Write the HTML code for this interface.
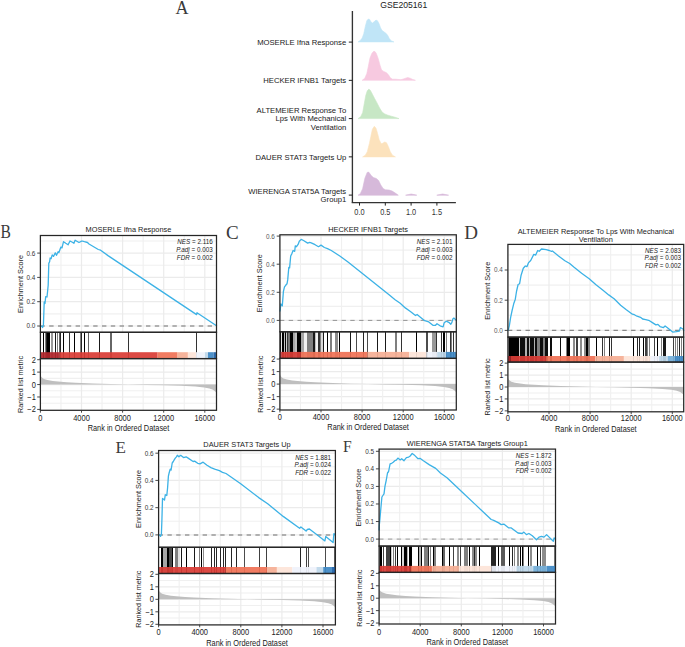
<!DOCTYPE html>
<html><head><meta charset="utf-8"><style>
html,body{margin:0;padding:0;background:#fff;}
svg{display:block;}
</style></head><body>
<svg width="685" height="647" viewBox="0 0 685 647">
<rect x="0" y="0" width="685" height="647" fill="#fff"/>
<text x="175.40" y="13.50" font-size="18" text-anchor="start" fill="#3a3a3a" font-family='"Liberation Serif", serif' >A</text>
<text transform="translate(403.70,8.10) scale(0.9,1)" font-size="9.6" text-anchor="middle" fill="#222" font-family='"Liberation Sans", sans-serif' >GSE205161</text>
<line x1="352.40" y1="11.00" x2="352.40" y2="202.60" stroke="#333" stroke-width="1.35" />
<line x1="351.72" y1="202.60" x2="455.90" y2="202.60" stroke="#333" stroke-width="1.35" />
<line x1="348.80" y1="42.10" x2="352.40" y2="42.10" stroke="#222" stroke-width="1.0" />
<line x1="348.80" y1="80.35" x2="352.40" y2="80.35" stroke="#222" stroke-width="1.0" />
<line x1="348.80" y1="118.60" x2="352.40" y2="118.60" stroke="#222" stroke-width="1.0" />
<line x1="348.80" y1="156.85" x2="352.40" y2="156.85" stroke="#222" stroke-width="1.0" />
<line x1="348.80" y1="195.10" x2="352.40" y2="195.10" stroke="#222" stroke-width="1.0" />
<line x1="359.50" y1="202.60" x2="359.50" y2="205.60" stroke="#222" stroke-width="1.0" />
<text transform="translate(359.50,215.00) scale(0.88,1)" font-size="8.4" text-anchor="middle" fill="#333" font-family='"Liberation Sans", sans-serif' >0.0</text>
<line x1="385.30" y1="202.60" x2="385.30" y2="205.60" stroke="#222" stroke-width="1.0" />
<text transform="translate(385.30,215.00) scale(0.88,1)" font-size="8.4" text-anchor="middle" fill="#333" font-family='"Liberation Sans", sans-serif' >0.5</text>
<line x1="411.10" y1="202.60" x2="411.10" y2="205.60" stroke="#222" stroke-width="1.0" />
<text transform="translate(411.10,215.00) scale(0.88,1)" font-size="8.4" text-anchor="middle" fill="#333" font-family='"Liberation Sans", sans-serif' >1.0</text>
<line x1="436.90" y1="202.60" x2="436.90" y2="205.60" stroke="#222" stroke-width="1.0" />
<text transform="translate(436.90,215.00) scale(0.88,1)" font-size="8.4" text-anchor="middle" fill="#333" font-family='"Liberation Sans", sans-serif' >1.5</text>
<text transform="translate(346.20,44.80) scale(0.96,1)" font-size="8.0" text-anchor="end" fill="#1a1a1a" font-family='"Liberation Sans", sans-serif' >MOSERLE Ifna Response</text>
<text transform="translate(346.20,83.05) scale(0.96,1)" font-size="8.0" text-anchor="end" fill="#1a1a1a" font-family='"Liberation Sans", sans-serif' >HECKER IFNB1 Targets</text>
<text transform="translate(346.20,112.90) scale(0.96,1)" font-size="8.0" text-anchor="end" fill="#1a1a1a" font-family='"Liberation Sans", sans-serif' >ALTEMEIER Response To</text>
<text transform="translate(346.20,121.30) scale(0.96,1)" font-size="8.0" text-anchor="end" fill="#1a1a1a" font-family='"Liberation Sans", sans-serif' >Lps With Mechanical</text>
<text transform="translate(346.20,129.70) scale(0.96,1)" font-size="8.0" text-anchor="end" fill="#1a1a1a" font-family='"Liberation Sans", sans-serif' >Ventilation</text>
<text transform="translate(346.20,159.55) scale(0.96,1)" font-size="8.0" text-anchor="end" fill="#1a1a1a" font-family='"Liberation Sans", sans-serif' >DAUER STAT3 Targets Up</text>
<text transform="translate(346.20,193.60) scale(0.96,1)" font-size="8.0" text-anchor="end" fill="#1a1a1a" font-family='"Liberation Sans", sans-serif' >WIERENGA STAT5A Targets</text>
<text transform="translate(346.20,202.10) scale(0.96,1)" font-size="8.0" text-anchor="end" fill="#1a1a1a" font-family='"Liberation Sans", sans-serif' >Group1</text>
<polygon points="358.10,41.90 360.20,40.50 362.20,38.10 363.80,33.50 365.30,26.40 366.80,20.80 368.30,19.00 369.60,19.40 370.90,21.80 372.40,23.10 374.00,21.80 376.00,20.10 377.50,20.80 379.10,23.80 380.60,27.90 382.10,30.50 384.20,32.00 386.20,33.50 387.80,35.60 389.30,38.50 391.30,40.90 393.90,41.90" fill="#c0e5f7" stroke="#c0e5f7" stroke-width="0.6" stroke-linejoin="round" />
<polygon points="362.20,80.30 364.80,78.20 366.80,73.60 368.30,66.50 369.90,58.30 371.90,53.20 374.00,51.10 376.00,52.70 378.10,58.30 380.10,65.40 381.60,70.00 383.70,71.40 386.20,72.60 388.30,74.60 390.30,77.70 392.40,79.20 395.90,79.20 401.00,79.70 404.10,78.70 407.70,77.50 410.20,78.20 412.80,79.50 415.40,80.30" fill="#f7c9e0" stroke="#f7c9e0" stroke-width="0.6" stroke-linejoin="round" />
<polygon points="358.10,118.60 360.70,116.70 362.70,112.60 364.30,103.40 365.80,95.30 367.30,90.70 368.90,89.10 370.40,90.40 372.40,94.20 374.50,98.30 377.00,102.90 379.60,108.00 382.10,112.10 384.70,113.90 387.80,115.20 391.30,116.20 394.90,117.20 399.00,118.60" fill="#c7e7c5" stroke="#c7e7c5" stroke-width="0.6" stroke-linejoin="round" />
<polygon points="362.70,156.90 365.30,155.20 367.30,151.70 369.40,143.50 370.90,136.30 372.40,129.20 374.30,126.30 376.00,128.20 377.50,133.30 379.10,139.40 381.10,143.70 382.70,143.30 384.70,142.00 386.50,142.70 388.30,146.50 390.30,151.70 392.40,155.20 395.40,156.90" fill="#fce2bc" stroke="#fce2bc" stroke-width="0.6" stroke-linejoin="round" />
<polygon points="358.10,195.20 360.30,193.70 362.60,188.80 364.90,178.20 367.20,172.40 368.70,172.10 371.00,175.20 373.30,177.50 376.30,178.50 378.60,180.50 380.80,185.00 383.10,188.50 385.40,189.80 389.20,190.10 392.20,191.10 395.30,193.10 398.30,195.20" fill="#d6b9da" stroke="#d6b9da" stroke-width="0.6" stroke-linejoin="round" />
<polygon points="405.60,195.20 408.50,194.60 411.20,194.00 414.00,194.60 416.80,195.20" fill="#d6b9da" stroke="#d6b9da" stroke-width="0.6" stroke-linejoin="round" />
<polygon points="436.80,195.20 439.70,194.60 442.60,194.00 445.50,194.60 448.60,195.20" fill="#d6b9da" stroke="#d6b9da" stroke-width="0.6" stroke-linejoin="round" />
<g>
<line x1="40.40" y1="313.85" x2="216.50" y2="313.85" stroke="#f0f0f0" stroke-width="1.1" />
<line x1="40.40" y1="289.55" x2="216.50" y2="289.55" stroke="#f0f0f0" stroke-width="1.1" />
<line x1="40.40" y1="265.25" x2="216.50" y2="265.25" stroke="#f0f0f0" stroke-width="1.1" />
<line x1="40.40" y1="240.95" x2="216.50" y2="240.95" stroke="#f0f0f0" stroke-width="1.1" />
<line x1="40.40" y1="326.00" x2="216.50" y2="326.00" stroke="#ebebeb" stroke-width="1.2" />
<line x1="40.40" y1="301.70" x2="216.50" y2="301.70" stroke="#ebebeb" stroke-width="1.2" />
<line x1="40.40" y1="277.40" x2="216.50" y2="277.40" stroke="#ebebeb" stroke-width="1.2" />
<line x1="40.40" y1="253.10" x2="216.50" y2="253.10" stroke="#ebebeb" stroke-width="1.2" />
<line x1="60.95" y1="235.50" x2="60.95" y2="332.30" stroke="#f0f0f0" stroke-width="1.1" />
<line x1="102.05" y1="235.50" x2="102.05" y2="332.30" stroke="#f0f0f0" stroke-width="1.1" />
<line x1="143.15" y1="235.50" x2="143.15" y2="332.30" stroke="#f0f0f0" stroke-width="1.1" />
<line x1="184.25" y1="235.50" x2="184.25" y2="332.30" stroke="#f0f0f0" stroke-width="1.1" />
<line x1="40.40" y1="235.50" x2="40.40" y2="332.30" stroke="#ebebeb" stroke-width="1.2" />
<line x1="81.50" y1="235.50" x2="81.50" y2="332.30" stroke="#ebebeb" stroke-width="1.2" />
<line x1="122.60" y1="235.50" x2="122.60" y2="332.30" stroke="#ebebeb" stroke-width="1.2" />
<line x1="163.70" y1="235.50" x2="163.70" y2="332.30" stroke="#ebebeb" stroke-width="1.2" />
<line x1="204.80" y1="235.50" x2="204.80" y2="332.30" stroke="#ebebeb" stroke-width="1.2" />
<line x1="40.40" y1="365.91" x2="216.50" y2="365.91" stroke="#f0f0f0" stroke-width="1.1" />
<line x1="40.40" y1="378.34" x2="216.50" y2="378.34" stroke="#f0f0f0" stroke-width="1.1" />
<line x1="40.40" y1="390.76" x2="216.50" y2="390.76" stroke="#f0f0f0" stroke-width="1.1" />
<line x1="40.40" y1="403.19" x2="216.50" y2="403.19" stroke="#f0f0f0" stroke-width="1.1" />
<line x1="40.40" y1="372.12" x2="216.50" y2="372.12" stroke="#ebebeb" stroke-width="1.2" />
<line x1="40.40" y1="384.55" x2="216.50" y2="384.55" stroke="#ebebeb" stroke-width="1.2" />
<line x1="40.40" y1="396.98" x2="216.50" y2="396.98" stroke="#ebebeb" stroke-width="1.2" />
<line x1="60.95" y1="358.60" x2="60.95" y2="410.30" stroke="#f0f0f0" stroke-width="1.1" />
<line x1="102.05" y1="358.60" x2="102.05" y2="410.30" stroke="#f0f0f0" stroke-width="1.1" />
<line x1="143.15" y1="358.60" x2="143.15" y2="410.30" stroke="#f0f0f0" stroke-width="1.1" />
<line x1="184.25" y1="358.60" x2="184.25" y2="410.30" stroke="#f0f0f0" stroke-width="1.1" />
<line x1="40.40" y1="358.60" x2="40.40" y2="410.30" stroke="#ebebeb" stroke-width="1.2" />
<line x1="81.50" y1="358.60" x2="81.50" y2="410.30" stroke="#ebebeb" stroke-width="1.2" />
<line x1="122.60" y1="358.60" x2="122.60" y2="410.30" stroke="#ebebeb" stroke-width="1.2" />
<line x1="163.70" y1="358.60" x2="163.70" y2="410.30" stroke="#ebebeb" stroke-width="1.2" />
<line x1="204.80" y1="358.60" x2="204.80" y2="410.30" stroke="#ebebeb" stroke-width="1.2" />
</g>
<line x1="40.40" y1="326.00" x2="216.50" y2="326.00" stroke="#9a9a9a" stroke-width="1.5" stroke-dasharray="4.4,4.4"/>
<polyline points="40.40,326.30 41.90,326.30 42.60,327.50 43.40,325.20 43.90,311.30 44.20,302.00 45.00,303.50 45.70,296.60 47.00,297.00 47.60,291.20 48.20,285.00 48.80,263.40 49.60,261.80 50.10,258.00 51.10,258.70 52.20,254.90 53.50,256.40 55.30,252.90 56.50,255.30 58.10,251.80 58.90,252.50 60.90,247.10 62.00,247.90 63.50,241.70 65.80,243.30 68.10,244.80 70.00,241.00 72.80,242.50 73.90,243.30 75.10,240.20 79.00,242.50 80.50,241.70 82.00,241.00 84.40,241.70 87.50,242.50 89.00,244.00 98.30,249.50 100.60,250.20 108.00,255.60 196.60,314.60 197.00,312.70 216.50,325.80" fill="none" stroke="#3cb2e6" stroke-width="1.3" stroke-linejoin="round" stroke-linecap="round"/>
<polygon points="40.40,384.55 40.40,374.61 41.10,376.59 42.16,377.84 43.92,378.96 47.44,380.08 52.73,380.95 58.01,381.57 66.81,382.31 75.62,382.81 93.23,383.56 110.84,384.11 128.45,384.55 146.06,384.92 163.67,385.30 181.28,385.79 195.37,386.54 204.17,387.41 209.46,388.40 212.98,389.77 215.62,391.76 216.50,393.25 216.50,384.55" fill="#bfbfbf" stroke="none" stroke-width="0" stroke-linejoin="round" />
<rect x="40.00" y="332.30" width="1.00" height="26.30" fill="rgba(0,0,0,0.5)" stroke="none" stroke-width="1" />
<rect x="43.00" y="332.30" width="1.00" height="26.30" fill="rgba(0,0,0,1)" stroke="none" stroke-width="1" />
<rect x="45.00" y="332.30" width="1.00" height="26.30" fill="rgba(0,0,0,0.5)" stroke="none" stroke-width="1" />
<rect x="46.00" y="332.30" width="1.00" height="26.30" fill="rgba(0,0,0,0.85)" stroke="none" stroke-width="1" />
<rect x="47.00" y="332.30" width="3.00" height="26.30" fill="rgba(0,0,0,1)" stroke="none" stroke-width="1" />
<rect x="51.00" y="332.30" width="2.00" height="26.30" fill="rgba(0,0,0,0.4)" stroke="none" stroke-width="1" />
<rect x="55.00" y="332.30" width="1.00" height="26.30" fill="rgba(0,0,0,0.9)" stroke="none" stroke-width="1" />
<rect x="57.00" y="332.30" width="1.00" height="26.30" fill="rgba(0,0,0,0.5)" stroke="none" stroke-width="1" />
<rect x="59.00" y="332.30" width="1.00" height="26.30" fill="rgba(0,0,0,0.6)" stroke="none" stroke-width="1" />
<rect x="60.00" y="332.30" width="1.00" height="26.30" fill="rgba(0,0,0,0.85)" stroke="none" stroke-width="1" />
<rect x="63.00" y="332.30" width="1.00" height="26.30" fill="rgba(0,0,0,1)" stroke="none" stroke-width="1" />
<rect x="69.00" y="332.30" width="1.00" height="26.30" fill="rgba(0,0,0,0.8)" stroke="none" stroke-width="1" />
<rect x="74.00" y="332.30" width="1.00" height="26.30" fill="rgba(0,0,0,1)" stroke="none" stroke-width="1" />
<rect x="80.00" y="332.30" width="1.00" height="26.30" fill="rgba(0,0,0,0.5)" stroke="none" stroke-width="1" />
<rect x="81.00" y="332.30" width="1.00" height="26.30" fill="rgba(0,0,0,0.85)" stroke="none" stroke-width="1" />
<rect x="84.00" y="332.30" width="1.00" height="26.30" fill="rgba(0,0,0,1)" stroke="none" stroke-width="1" />
<rect x="88.00" y="332.30" width="1.00" height="26.30" fill="rgba(0,0,0,0.6)" stroke="none" stroke-width="1" />
<rect x="99.00" y="332.30" width="1.00" height="26.30" fill="rgba(0,0,0,0.9)" stroke="none" stroke-width="1" />
<rect x="110.00" y="332.30" width="2.00" height="26.30" fill="rgba(0,0,0,0.6)" stroke="none" stroke-width="1" />
<rect x="128.00" y="332.30" width="1.00" height="26.30" fill="rgba(0,0,0,0.8)" stroke="none" stroke-width="1" />
<rect x="196.00" y="332.30" width="1.00" height="26.30" fill="rgba(0,0,0,0.8)" stroke="none" stroke-width="1" />
<rect x="40.40" y="352.20" width="19.10" height="6.40" fill="#b0262b" stroke="none" stroke-width="1" fill-opacity="0.93"/>
<rect x="59.50" y="352.20" width="98.10" height="6.40" fill="#d93c36" stroke="none" stroke-width="1" fill-opacity="0.93"/>
<rect x="157.60" y="352.20" width="19.40" height="6.40" fill="#f07256" stroke="none" stroke-width="1" fill-opacity="0.93"/>
<rect x="177.00" y="352.20" width="10.90" height="6.40" fill="#f5ae95" stroke="none" stroke-width="1" fill-opacity="0.93"/>
<rect x="187.90" y="352.20" width="8.10" height="6.40" fill="#fde4d8" stroke="none" stroke-width="1" fill-opacity="0.93"/>
<rect x="196.00" y="352.20" width="8.90" height="6.40" fill="#eff2fb" stroke="none" stroke-width="1" fill-opacity="0.93"/>
<rect x="204.90" y="352.20" width="3.10" height="6.40" fill="#bed7ea" stroke="none" stroke-width="1" fill-opacity="0.93"/>
<rect x="208.00" y="352.20" width="5.60" height="6.40" fill="#3f89c5" stroke="none" stroke-width="1" fill-opacity="0.93"/>
<rect x="213.60" y="352.20" width="2.90" height="6.40" fill="#1f60a7" stroke="none" stroke-width="1" fill-opacity="0.93"/>
<rect x="40.40" y="235.50" width="176.10" height="96.80" fill="none" stroke="#262626" stroke-width="1.25" />
<rect x="40.40" y="332.30" width="176.10" height="26.30" fill="none" stroke="#262626" stroke-width="1.25" />
<rect x="40.40" y="358.60" width="176.10" height="51.70" fill="none" stroke="#262626" stroke-width="1.25" />
<line x1="37.20" y1="326.00" x2="40.40" y2="326.00" stroke="#333" stroke-width="0.9" />
<text transform="translate(35.40,328.45) scale(0.94,1)" font-size="6.8" text-anchor="end" fill="#333" font-family='"Liberation Sans", sans-serif' >0.0</text>
<line x1="37.20" y1="301.70" x2="40.40" y2="301.70" stroke="#333" stroke-width="0.9" />
<text transform="translate(35.40,304.15) scale(0.94,1)" font-size="6.8" text-anchor="end" fill="#333" font-family='"Liberation Sans", sans-serif' >0.2</text>
<line x1="37.20" y1="277.40" x2="40.40" y2="277.40" stroke="#333" stroke-width="0.9" />
<text transform="translate(35.40,279.85) scale(0.94,1)" font-size="6.8" text-anchor="end" fill="#333" font-family='"Liberation Sans", sans-serif' >0.4</text>
<line x1="37.20" y1="253.10" x2="40.40" y2="253.10" stroke="#333" stroke-width="0.9" />
<text transform="translate(35.40,255.55) scale(0.94,1)" font-size="6.8" text-anchor="end" fill="#333" font-family='"Liberation Sans", sans-serif' >0.6</text>
<line x1="37.20" y1="359.69" x2="40.40" y2="359.69" stroke="#333" stroke-width="0.9" />
<text transform="translate(35.80,362.69) scale(0.89,1)" font-size="8.4" text-anchor="end" fill="#222" font-family='"Liberation Sans", sans-serif' >2</text>
<line x1="37.20" y1="372.12" x2="40.40" y2="372.12" stroke="#333" stroke-width="0.9" />
<text transform="translate(35.80,375.12) scale(0.89,1)" font-size="8.4" text-anchor="end" fill="#222" font-family='"Liberation Sans", sans-serif' >1</text>
<line x1="37.20" y1="384.55" x2="40.40" y2="384.55" stroke="#333" stroke-width="0.9" />
<text transform="translate(35.80,387.55) scale(0.89,1)" font-size="8.4" text-anchor="end" fill="#222" font-family='"Liberation Sans", sans-serif' >0</text>
<line x1="37.20" y1="396.98" x2="40.40" y2="396.98" stroke="#333" stroke-width="0.9" />
<text transform="translate(35.80,399.98) scale(0.89,1)" font-size="8.4" text-anchor="end" fill="#222" font-family='"Liberation Sans", sans-serif' >−1</text>
<line x1="37.20" y1="409.41" x2="40.40" y2="409.41" stroke="#333" stroke-width="0.9" />
<text transform="translate(35.80,412.41) scale(0.89,1)" font-size="8.4" text-anchor="end" fill="#222" font-family='"Liberation Sans", sans-serif' >−2</text>
<line x1="40.40" y1="410.30" x2="40.40" y2="412.70" stroke="#333" stroke-width="0.9" />
<text transform="translate(40.40,420.50) scale(0.89,1)" font-size="8.4" text-anchor="middle" fill="#222" font-family='"Liberation Sans", sans-serif' >0</text>
<line x1="81.50" y1="410.30" x2="81.50" y2="412.70" stroke="#333" stroke-width="0.9" />
<text transform="translate(81.50,420.50) scale(0.89,1)" font-size="8.4" text-anchor="middle" fill="#222" font-family='"Liberation Sans", sans-serif' >4000</text>
<line x1="122.60" y1="410.30" x2="122.60" y2="412.70" stroke="#333" stroke-width="0.9" />
<text transform="translate(122.60,420.50) scale(0.89,1)" font-size="8.4" text-anchor="middle" fill="#222" font-family='"Liberation Sans", sans-serif' >8000</text>
<line x1="163.70" y1="410.30" x2="163.70" y2="412.70" stroke="#333" stroke-width="0.9" />
<text transform="translate(163.70,420.50) scale(0.89,1)" font-size="8.4" text-anchor="middle" fill="#222" font-family='"Liberation Sans", sans-serif' >12000</text>
<line x1="204.80" y1="410.30" x2="204.80" y2="412.70" stroke="#333" stroke-width="0.9" />
<text transform="translate(204.80,420.50) scale(0.89,1)" font-size="8.4" text-anchor="middle" fill="#222" font-family='"Liberation Sans", sans-serif' >16000</text>
<text transform="translate(128.45,430.60) scale(0.89,1)" font-size="8.3" text-anchor="middle" fill="#1a1a1a" font-family='"Liberation Sans", sans-serif' >Rank in Ordered Dataset</text>
<text transform="translate(22.50,283.90) rotate(-90)" font-size="7.3" text-anchor="middle" fill="#1a1a1a" font-family='"Liberation Sans", sans-serif'>Enrichment Score</text>
<text transform="translate(22.70,384.45) rotate(-90)" font-size="7.2" text-anchor="middle" fill="#1a1a1a" font-family='"Liberation Sans", sans-serif'>Ranked list metric</text>
<text transform="translate(128.45,231.90) scale(0.96,1)" font-size="7.7" text-anchor="middle" fill="#1a1a1a" font-family='"Liberation Sans", sans-serif' >MOSERLE Ifna Response</text>
<text x="212.70" y="244.40" font-size="6.3" text-anchor="end" fill="#222" font-family='"Liberation Sans", sans-serif'><tspan font-style="italic">NES</tspan> = 2.116</text>
<text x="212.70" y="252.00" font-size="6.3" text-anchor="end" fill="#222" font-family='"Liberation Sans", sans-serif'><tspan font-style="italic">P.adj</tspan> = 0.003</text>
<text x="212.70" y="259.60" font-size="6.3" text-anchor="end" fill="#222" font-family='"Liberation Sans", sans-serif'><tspan font-style="italic">FDR</tspan> = 0.002</text>
<text transform="translate(0.50,237.90) scale(0.82,1)" font-size="19" fill="#3a3a3a" font-family='"Liberation Serif", serif'>B</text>
<g>
<line x1="279.90" y1="306.35" x2="456.30" y2="306.35" stroke="#f0f0f0" stroke-width="1.1" />
<line x1="279.90" y1="278.25" x2="456.30" y2="278.25" stroke="#f0f0f0" stroke-width="1.1" />
<line x1="279.90" y1="250.15" x2="456.30" y2="250.15" stroke="#f0f0f0" stroke-width="1.1" />
<line x1="279.90" y1="320.40" x2="456.30" y2="320.40" stroke="#ebebeb" stroke-width="1.2" />
<line x1="279.90" y1="292.30" x2="456.30" y2="292.30" stroke="#ebebeb" stroke-width="1.2" />
<line x1="279.90" y1="264.20" x2="456.30" y2="264.20" stroke="#ebebeb" stroke-width="1.2" />
<line x1="279.90" y1="236.10" x2="456.30" y2="236.10" stroke="#ebebeb" stroke-width="1.2" />
<line x1="300.45" y1="234.80" x2="300.45" y2="331.80" stroke="#f0f0f0" stroke-width="1.1" />
<line x1="341.55" y1="234.80" x2="341.55" y2="331.80" stroke="#f0f0f0" stroke-width="1.1" />
<line x1="382.65" y1="234.80" x2="382.65" y2="331.80" stroke="#f0f0f0" stroke-width="1.1" />
<line x1="423.75" y1="234.80" x2="423.75" y2="331.80" stroke="#f0f0f0" stroke-width="1.1" />
<line x1="279.90" y1="234.80" x2="279.90" y2="331.80" stroke="#ebebeb" stroke-width="1.2" />
<line x1="321.00" y1="234.80" x2="321.00" y2="331.80" stroke="#ebebeb" stroke-width="1.2" />
<line x1="362.10" y1="234.80" x2="362.10" y2="331.80" stroke="#ebebeb" stroke-width="1.2" />
<line x1="403.20" y1="234.80" x2="403.20" y2="331.80" stroke="#ebebeb" stroke-width="1.2" />
<line x1="444.30" y1="234.80" x2="444.30" y2="331.80" stroke="#ebebeb" stroke-width="1.2" />
<line x1="279.90" y1="365.32" x2="456.30" y2="365.32" stroke="#f0f0f0" stroke-width="1.1" />
<line x1="279.90" y1="377.84" x2="456.30" y2="377.84" stroke="#f0f0f0" stroke-width="1.1" />
<line x1="279.90" y1="390.36" x2="456.30" y2="390.36" stroke="#f0f0f0" stroke-width="1.1" />
<line x1="279.90" y1="402.88" x2="456.30" y2="402.88" stroke="#f0f0f0" stroke-width="1.1" />
<line x1="279.90" y1="371.58" x2="456.30" y2="371.58" stroke="#ebebeb" stroke-width="1.2" />
<line x1="279.90" y1="384.10" x2="456.30" y2="384.10" stroke="#ebebeb" stroke-width="1.2" />
<line x1="279.90" y1="396.62" x2="456.30" y2="396.62" stroke="#ebebeb" stroke-width="1.2" />
<line x1="300.45" y1="358.40" x2="300.45" y2="410.00" stroke="#f0f0f0" stroke-width="1.1" />
<line x1="341.55" y1="358.40" x2="341.55" y2="410.00" stroke="#f0f0f0" stroke-width="1.1" />
<line x1="382.65" y1="358.40" x2="382.65" y2="410.00" stroke="#f0f0f0" stroke-width="1.1" />
<line x1="423.75" y1="358.40" x2="423.75" y2="410.00" stroke="#f0f0f0" stroke-width="1.1" />
<line x1="279.90" y1="358.40" x2="279.90" y2="410.00" stroke="#ebebeb" stroke-width="1.2" />
<line x1="321.00" y1="358.40" x2="321.00" y2="410.00" stroke="#ebebeb" stroke-width="1.2" />
<line x1="362.10" y1="358.40" x2="362.10" y2="410.00" stroke="#ebebeb" stroke-width="1.2" />
<line x1="403.20" y1="358.40" x2="403.20" y2="410.00" stroke="#ebebeb" stroke-width="1.2" />
<line x1="444.30" y1="358.40" x2="444.30" y2="410.00" stroke="#ebebeb" stroke-width="1.2" />
</g>
<line x1="279.90" y1="320.40" x2="456.30" y2="320.40" stroke="#8a8a8a" stroke-width="0.9" stroke-dasharray="4.4,4.4"/>
<polyline points="280.00,311.00 280.30,309.30 280.80,303.90 282.30,305.90 283.40,291.50 284.50,286.90 285.70,285.30 287.00,283.80 287.70,279.90 288.80,267.50 289.60,267.90 290.70,256.00 291.90,253.60 293.10,250.50 294.70,251.30 295.30,245.90 296.50,246.70 298.10,244.40 299.30,241.30 301.20,239.40 303.50,240.50 307.70,243.10 309.70,242.40 311.20,242.80 315.10,244.70 318.50,246.70 321.00,245.10 324.40,247.50 327.50,248.70 331.30,250.50 339.80,256.00 348.00,262.10 390.00,295.60 395.10,299.70 400.20,303.30 405.30,307.90 410.40,311.50 415.50,315.50 417.10,314.50 420.70,317.40 424.70,320.70 428.80,321.90 432.90,325.30 435.50,325.30 437.00,323.70 440.10,325.80 443.10,326.80 444.20,322.70 446.20,321.20 449.30,322.70 450.80,324.20 451.80,322.70 452.80,319.10 453.90,318.10 455.40,319.40 456.30,320.40" fill="none" stroke="#3cb2e6" stroke-width="1.3" stroke-linejoin="round" stroke-linecap="round"/>
<polygon points="279.90,384.10 279.90,374.08 280.61,376.09 281.66,377.34 283.43,378.47 286.96,379.59 292.25,380.47 297.54,381.10 306.36,381.85 315.18,382.35 332.82,383.10 350.46,383.66 368.10,384.10 385.74,384.48 403.38,384.85 421.02,385.35 435.13,386.10 443.95,386.98 449.24,387.98 452.77,389.36 455.42,391.36 456.30,392.86 456.30,384.10" fill="#bfbfbf" stroke="none" stroke-width="0" stroke-linejoin="round" />
<rect x="280.00" y="331.80" width="1.00" height="26.60" fill="rgba(0,0,0,1)" stroke="none" stroke-width="1" />
<rect x="281.00" y="331.80" width="1.00" height="26.60" fill="rgba(0,0,0,0.1)" stroke="none" stroke-width="1" />
<rect x="282.00" y="331.80" width="2.00" height="26.60" fill="rgba(0,0,0,1)" stroke="none" stroke-width="1" />
<rect x="284.00" y="331.80" width="1.00" height="26.60" fill="rgba(0,0,0,0.25)" stroke="none" stroke-width="1" />
<rect x="285.00" y="331.80" width="1.00" height="26.60" fill="rgba(0,0,0,1)" stroke="none" stroke-width="1" />
<rect x="286.00" y="331.80" width="1.00" height="26.60" fill="rgba(0,0,0,0.2)" stroke="none" stroke-width="1" />
<rect x="287.00" y="331.80" width="1.00" height="26.60" fill="rgba(0,0,0,0.8)" stroke="none" stroke-width="1" />
<rect x="288.00" y="331.80" width="2.00" height="26.60" fill="rgba(0,0,0,0.55)" stroke="none" stroke-width="1" />
<rect x="290.00" y="331.80" width="3.00" height="26.60" fill="rgba(0,0,0,1)" stroke="none" stroke-width="1" />
<rect x="293.00" y="331.80" width="2.00" height="26.60" fill="rgba(0,0,0,0.35)" stroke="none" stroke-width="1" />
<rect x="295.00" y="331.80" width="2.00" height="26.60" fill="rgba(0,0,0,0.25)" stroke="none" stroke-width="1" />
<rect x="297.00" y="331.80" width="4.00" height="26.60" fill="rgba(0,0,0,1)" stroke="none" stroke-width="1" />
<rect x="301.00" y="331.80" width="3.00" height="26.60" fill="rgba(0,0,0,0.35)" stroke="none" stroke-width="1" />
<rect x="304.00" y="331.80" width="3.00" height="26.60" fill="rgba(0,0,0,0.05)" stroke="none" stroke-width="1" />
<rect x="307.00" y="331.80" width="6.00" height="26.60" fill="rgba(0,0,0,0.5)" stroke="none" stroke-width="1" />
<rect x="313.00" y="331.80" width="2.00" height="26.60" fill="rgba(0,0,0,0.9)" stroke="none" stroke-width="1" />
<rect x="315.00" y="331.80" width="1.00" height="26.60" fill="rgba(0,0,0,0.25)" stroke="none" stroke-width="1" />
<rect x="316.00" y="331.80" width="2.00" height="26.60" fill="rgba(0,0,0,0.05)" stroke="none" stroke-width="1" />
<rect x="318.00" y="331.80" width="2.00" height="26.60" fill="rgba(0,0,0,0.8)" stroke="none" stroke-width="1" />
<rect x="320.00" y="331.80" width="1.00" height="26.60" fill="rgba(0,0,0,0.5)" stroke="none" stroke-width="1" />
<rect x="321.00" y="331.80" width="2.00" height="26.60" fill="rgba(0,0,0,0.15)" stroke="none" stroke-width="1" />
<rect x="323.00" y="331.80" width="1.00" height="26.60" fill="rgba(0,0,0,0.9)" stroke="none" stroke-width="1" />
<rect x="327.00" y="331.80" width="1.00" height="26.60" fill="rgba(0,0,0,1)" stroke="none" stroke-width="1" />
<rect x="330.00" y="331.80" width="2.00" height="26.60" fill="rgba(0,0,0,0.5)" stroke="none" stroke-width="1" />
<rect x="335.00" y="331.80" width="3.00" height="26.60" fill="rgba(0,0,0,0.45)" stroke="none" stroke-width="1" />
<rect x="339.00" y="331.80" width="1.00" height="26.60" fill="rgba(0,0,0,1)" stroke="none" stroke-width="1" />
<rect x="350.00" y="331.80" width="1.00" height="26.60" fill="rgba(0,0,0,0.9)" stroke="none" stroke-width="1" />
<rect x="356.00" y="331.80" width="1.00" height="26.60" fill="rgba(0,0,0,0.7)" stroke="none" stroke-width="1" />
<rect x="363.00" y="331.80" width="1.00" height="26.60" fill="rgba(0,0,0,0.85)" stroke="none" stroke-width="1" />
<rect x="367.00" y="331.80" width="1.00" height="26.60" fill="rgba(0,0,0,0.7)" stroke="none" stroke-width="1" />
<rect x="377.00" y="331.80" width="1.00" height="26.60" fill="rgba(0,0,0,0.9)" stroke="none" stroke-width="1" />
<rect x="385.00" y="331.80" width="1.00" height="26.60" fill="rgba(0,0,0,0.9)" stroke="none" stroke-width="1" />
<rect x="395.00" y="331.80" width="2.00" height="26.60" fill="rgba(0,0,0,0.5)" stroke="none" stroke-width="1" />
<rect x="401.00" y="331.80" width="1.00" height="26.60" fill="rgba(0,0,0,0.8)" stroke="none" stroke-width="1" />
<rect x="416.00" y="331.80" width="1.00" height="26.60" fill="rgba(0,0,0,1)" stroke="none" stroke-width="1" />
<rect x="426.00" y="331.80" width="2.00" height="26.60" fill="rgba(0,0,0,0.7)" stroke="none" stroke-width="1" />
<rect x="432.00" y="331.80" width="4.00" height="26.60" fill="rgba(0,0,0,0.4)" stroke="none" stroke-width="1" />
<rect x="436.00" y="331.80" width="1.00" height="26.60" fill="rgba(0,0,0,0.8)" stroke="none" stroke-width="1" />
<rect x="441.00" y="331.80" width="1.00" height="26.60" fill="rgba(0,0,0,0.8)" stroke="none" stroke-width="1" />
<rect x="443.00" y="331.80" width="2.00" height="26.60" fill="rgba(0,0,0,1)" stroke="none" stroke-width="1" />
<rect x="446.00" y="331.80" width="1.00" height="26.60" fill="rgba(0,0,0,0.5)" stroke="none" stroke-width="1" />
<rect x="450.00" y="331.80" width="1.00" height="26.60" fill="rgba(0,0,0,0.8)" stroke="none" stroke-width="1" />
<rect x="451.00" y="331.80" width="1.00" height="26.60" fill="rgba(0,0,0,0.5)" stroke="none" stroke-width="1" />
<rect x="453.00" y="331.80" width="1.00" height="26.60" fill="rgba(0,0,0,0.8)" stroke="none" stroke-width="1" />
<rect x="279.90" y="351.90" width="1.90" height="6.50" fill="#b0262b" stroke="none" stroke-width="1" fill-opacity="0.93"/>
<rect x="281.80" y="351.90" width="19.10" height="6.50" fill="#d93c36" stroke="none" stroke-width="1" fill-opacity="0.93"/>
<rect x="300.90" y="351.90" width="66.70" height="6.50" fill="#f07256" stroke="none" stroke-width="1" fill-opacity="0.93"/>
<rect x="367.60" y="351.90" width="41.40" height="6.50" fill="#f5ae95" stroke="none" stroke-width="1" fill-opacity="0.93"/>
<rect x="409.00" y="351.90" width="17.40" height="6.50" fill="#fde4d8" stroke="none" stroke-width="1" fill-opacity="0.93"/>
<rect x="426.40" y="351.90" width="10.80" height="6.50" fill="#eff2fb" stroke="none" stroke-width="1" fill-opacity="0.93"/>
<rect x="437.20" y="351.90" width="8.70" height="6.50" fill="#bed7ea" stroke="none" stroke-width="1" fill-opacity="0.93"/>
<rect x="445.90" y="351.90" width="10.40" height="6.50" fill="#3f89c5" stroke="none" stroke-width="1" fill-opacity="0.93"/>
<rect x="279.90" y="234.80" width="176.40" height="97.00" fill="none" stroke="#262626" stroke-width="1.25" />
<rect x="279.90" y="331.80" width="176.40" height="26.60" fill="none" stroke="#262626" stroke-width="1.25" />
<rect x="279.90" y="358.40" width="176.40" height="51.60" fill="none" stroke="#262626" stroke-width="1.25" />
<line x1="276.70" y1="320.40" x2="279.90" y2="320.40" stroke="#333" stroke-width="0.9" />
<text transform="translate(274.90,322.85) scale(0.94,1)" font-size="6.8" text-anchor="end" fill="#555" font-family='"Liberation Sans", sans-serif' >0.0</text>
<line x1="276.70" y1="292.30" x2="279.90" y2="292.30" stroke="#333" stroke-width="0.9" />
<text transform="translate(274.90,294.75) scale(0.94,1)" font-size="6.8" text-anchor="end" fill="#555" font-family='"Liberation Sans", sans-serif' >0.2</text>
<line x1="276.70" y1="264.20" x2="279.90" y2="264.20" stroke="#333" stroke-width="0.9" />
<text transform="translate(274.90,266.65) scale(0.94,1)" font-size="6.8" text-anchor="end" fill="#555" font-family='"Liberation Sans", sans-serif' >0.4</text>
<line x1="276.70" y1="236.10" x2="279.90" y2="236.10" stroke="#333" stroke-width="0.9" />
<text transform="translate(274.90,238.55) scale(0.94,1)" font-size="6.8" text-anchor="end" fill="#555" font-family='"Liberation Sans", sans-serif' >0.6</text>
<line x1="276.70" y1="359.06" x2="279.90" y2="359.06" stroke="#333" stroke-width="0.9" />
<text transform="translate(275.30,362.06) scale(0.89,1)" font-size="8.4" text-anchor="end" fill="#222" font-family='"Liberation Sans", sans-serif' >2</text>
<line x1="276.70" y1="371.58" x2="279.90" y2="371.58" stroke="#333" stroke-width="0.9" />
<text transform="translate(275.30,374.58) scale(0.89,1)" font-size="8.4" text-anchor="end" fill="#222" font-family='"Liberation Sans", sans-serif' >1</text>
<line x1="276.70" y1="384.10" x2="279.90" y2="384.10" stroke="#333" stroke-width="0.9" />
<text transform="translate(275.30,387.10) scale(0.89,1)" font-size="8.4" text-anchor="end" fill="#222" font-family='"Liberation Sans", sans-serif' >0</text>
<line x1="276.70" y1="396.62" x2="279.90" y2="396.62" stroke="#333" stroke-width="0.9" />
<text transform="translate(275.30,399.62) scale(0.89,1)" font-size="8.4" text-anchor="end" fill="#222" font-family='"Liberation Sans", sans-serif' >−1</text>
<line x1="276.70" y1="409.14" x2="279.90" y2="409.14" stroke="#333" stroke-width="0.9" />
<text transform="translate(275.30,412.14) scale(0.89,1)" font-size="8.4" text-anchor="end" fill="#222" font-family='"Liberation Sans", sans-serif' >−2</text>
<line x1="279.90" y1="410.00" x2="279.90" y2="412.40" stroke="#333" stroke-width="0.9" />
<text transform="translate(279.90,419.80) scale(0.89,1)" font-size="8.4" text-anchor="middle" fill="#222" font-family='"Liberation Sans", sans-serif' >0</text>
<line x1="321.00" y1="410.00" x2="321.00" y2="412.40" stroke="#333" stroke-width="0.9" />
<text transform="translate(321.00,419.80) scale(0.89,1)" font-size="8.4" text-anchor="middle" fill="#222" font-family='"Liberation Sans", sans-serif' >4000</text>
<line x1="362.10" y1="410.00" x2="362.10" y2="412.40" stroke="#333" stroke-width="0.9" />
<text transform="translate(362.10,419.80) scale(0.89,1)" font-size="8.4" text-anchor="middle" fill="#222" font-family='"Liberation Sans", sans-serif' >8000</text>
<line x1="403.20" y1="410.00" x2="403.20" y2="412.40" stroke="#333" stroke-width="0.9" />
<text transform="translate(403.20,419.80) scale(0.89,1)" font-size="8.4" text-anchor="middle" fill="#222" font-family='"Liberation Sans", sans-serif' >12000</text>
<line x1="444.30" y1="410.00" x2="444.30" y2="412.40" stroke="#333" stroke-width="0.9" />
<text transform="translate(444.30,419.80) scale(0.89,1)" font-size="8.4" text-anchor="middle" fill="#222" font-family='"Liberation Sans", sans-serif' >16000</text>
<text transform="translate(368.10,430.20) scale(0.89,1)" font-size="8.3" text-anchor="middle" fill="#1a1a1a" font-family='"Liberation Sans", sans-serif' >Rank in Ordered Dataset</text>
<text transform="translate(262.20,283.30) rotate(-90)" font-size="7.3" text-anchor="middle" fill="#1a1a1a" font-family='"Liberation Sans", sans-serif'>Enrichment Score</text>
<text transform="translate(262.50,384.20) rotate(-90)" font-size="7.2" text-anchor="middle" fill="#1a1a1a" font-family='"Liberation Sans", sans-serif'>Ranked list metric</text>
<text transform="translate(368.10,231.90) scale(0.96,1)" font-size="7.7" text-anchor="middle" fill="#1a1a1a" font-family='"Liberation Sans", sans-serif' >HECKER IFNB1 Targets</text>
<text x="452.60" y="244.40" font-size="6.3" text-anchor="end" fill="#222" font-family='"Liberation Sans", sans-serif'><tspan font-style="italic">NES</tspan> = 2.101</text>
<text x="452.60" y="252.00" font-size="6.3" text-anchor="end" fill="#222" font-family='"Liberation Sans", sans-serif'><tspan font-style="italic">P.adj</tspan> = 0.003</text>
<text x="452.60" y="259.60" font-size="6.3" text-anchor="end" fill="#222" font-family='"Liberation Sans", sans-serif'><tspan font-style="italic">FDR</tspan> = 0.002</text>
<text transform="translate(226.00,238.50) scale(1.0,1)" font-size="19" fill="#3a3a3a" font-family='"Liberation Serif", serif'>C</text>
<g>
<line x1="507.90" y1="315.30" x2="683.70" y2="315.30" stroke="#f0f0f0" stroke-width="1.1" />
<line x1="507.90" y1="285.10" x2="683.70" y2="285.10" stroke="#f0f0f0" stroke-width="1.1" />
<line x1="507.90" y1="254.90" x2="683.70" y2="254.90" stroke="#f0f0f0" stroke-width="1.1" />
<line x1="507.90" y1="330.40" x2="683.70" y2="330.40" stroke="#ebebeb" stroke-width="1.2" />
<line x1="507.90" y1="300.20" x2="683.70" y2="300.20" stroke="#ebebeb" stroke-width="1.2" />
<line x1="507.90" y1="270.00" x2="683.70" y2="270.00" stroke="#ebebeb" stroke-width="1.2" />
<line x1="528.45" y1="244.40" x2="528.45" y2="337.10" stroke="#f0f0f0" stroke-width="1.1" />
<line x1="569.55" y1="244.40" x2="569.55" y2="337.10" stroke="#f0f0f0" stroke-width="1.1" />
<line x1="610.65" y1="244.40" x2="610.65" y2="337.10" stroke="#f0f0f0" stroke-width="1.1" />
<line x1="651.75" y1="244.40" x2="651.75" y2="337.10" stroke="#f0f0f0" stroke-width="1.1" />
<line x1="507.90" y1="244.40" x2="507.90" y2="337.10" stroke="#ebebeb" stroke-width="1.2" />
<line x1="549.00" y1="244.40" x2="549.00" y2="337.10" stroke="#ebebeb" stroke-width="1.2" />
<line x1="590.10" y1="244.40" x2="590.10" y2="337.10" stroke="#ebebeb" stroke-width="1.2" />
<line x1="631.20" y1="244.40" x2="631.20" y2="337.10" stroke="#ebebeb" stroke-width="1.2" />
<line x1="672.30" y1="244.40" x2="672.30" y2="337.10" stroke="#ebebeb" stroke-width="1.2" />
<line x1="507.90" y1="369.11" x2="683.70" y2="369.11" stroke="#f0f0f0" stroke-width="1.1" />
<line x1="507.90" y1="381.04" x2="683.70" y2="381.04" stroke="#f0f0f0" stroke-width="1.1" />
<line x1="507.90" y1="392.96" x2="683.70" y2="392.96" stroke="#f0f0f0" stroke-width="1.1" />
<line x1="507.90" y1="404.89" x2="683.70" y2="404.89" stroke="#f0f0f0" stroke-width="1.1" />
<line x1="507.90" y1="375.07" x2="683.70" y2="375.07" stroke="#ebebeb" stroke-width="1.2" />
<line x1="507.90" y1="387.00" x2="683.70" y2="387.00" stroke="#ebebeb" stroke-width="1.2" />
<line x1="507.90" y1="398.93" x2="683.70" y2="398.93" stroke="#ebebeb" stroke-width="1.2" />
<line x1="528.45" y1="362.10" x2="528.45" y2="411.80" stroke="#f0f0f0" stroke-width="1.1" />
<line x1="569.55" y1="362.10" x2="569.55" y2="411.80" stroke="#f0f0f0" stroke-width="1.1" />
<line x1="610.65" y1="362.10" x2="610.65" y2="411.80" stroke="#f0f0f0" stroke-width="1.1" />
<line x1="651.75" y1="362.10" x2="651.75" y2="411.80" stroke="#f0f0f0" stroke-width="1.1" />
<line x1="507.90" y1="362.10" x2="507.90" y2="411.80" stroke="#ebebeb" stroke-width="1.2" />
<line x1="549.00" y1="362.10" x2="549.00" y2="411.80" stroke="#ebebeb" stroke-width="1.2" />
<line x1="590.10" y1="362.10" x2="590.10" y2="411.80" stroke="#ebebeb" stroke-width="1.2" />
<line x1="631.20" y1="362.10" x2="631.20" y2="411.80" stroke="#ebebeb" stroke-width="1.2" />
<line x1="672.30" y1="362.10" x2="672.30" y2="411.80" stroke="#ebebeb" stroke-width="1.2" />
</g>
<line x1="507.90" y1="330.40" x2="683.70" y2="330.40" stroke="#888" stroke-width="1.1" stroke-dasharray="4.4,4.4"/>
<polyline points="507.90,330.40 508.30,330.10 509.40,325.40 510.60,317.70 512.20,310.00 513.70,303.80 515.30,299.20 516.50,291.50 518.10,284.50 519.60,283.70 521.10,275.20 523.30,268.30 525.30,266.00 526.90,266.70 528.40,262.90 530.70,260.50 533.80,254.40 535.70,255.10 537.70,250.50 539.20,251.30 541.50,249.00 546.20,249.70 549.30,250.50 551.60,251.30 552.40,251.00 558.50,255.90 564.90,260.80 569.70,263.50 574.10,267.30 581.60,273.30 589.20,278.70 595.70,284.60 603.30,290.60 608.70,294.90 614.10,298.70 620.60,305.20 626.00,309.50 632.40,314.20 634.40,314.70 637.00,316.20 640.50,317.30 642.60,319.00 645.70,319.60 648.70,320.30 652.80,322.90 655.90,324.90 657.90,324.40 660.00,326.50 663.50,327.50 665.10,326.00 667.10,327.50 670.20,330.00 672.70,332.10 676.30,331.60 679.40,331.00 680.40,327.50 683.00,329.00 683.70,330.40" fill="none" stroke="#3cb2e6" stroke-width="1.3" stroke-linejoin="round" stroke-linecap="round"/>
<polygon points="507.90,387.00 507.90,377.46 508.60,379.36 509.66,380.56 511.42,381.63 514.93,382.71 520.21,383.54 525.48,384.14 534.27,384.85 543.06,385.33 560.64,386.05 578.22,386.58 595.80,387.00 613.38,387.36 630.96,387.72 648.54,388.19 662.60,388.91 671.39,389.74 676.67,390.70 680.18,392.01 682.82,393.92 683.70,395.35 683.70,387.00" fill="#bfbfbf" stroke="none" stroke-width="0" stroke-linejoin="round" />
<rect x="508.00" y="337.10" width="1.00" height="25.00" fill="rgba(0,0,0,0.5)" stroke="none" stroke-width="1" />
<rect x="509.00" y="337.10" width="10.00" height="25.00" fill="rgba(0,0,0,1)" stroke="none" stroke-width="1" />
<rect x="519.00" y="337.10" width="1.00" height="25.00" fill="rgba(0,0,0,0.2)" stroke="none" stroke-width="1" />
<rect x="520.00" y="337.10" width="5.00" height="25.00" fill="rgba(0,0,0,0.95)" stroke="none" stroke-width="1" />
<rect x="525.00" y="337.10" width="2.00" height="25.00" fill="rgba(0,0,0,0.3)" stroke="none" stroke-width="1" />
<rect x="527.00" y="337.10" width="2.00" height="25.00" fill="rgba(0,0,0,0.95)" stroke="none" stroke-width="1" />
<rect x="529.00" y="337.10" width="1.00" height="25.00" fill="rgba(0,0,0,0.3)" stroke="none" stroke-width="1" />
<rect x="530.00" y="337.10" width="4.00" height="25.00" fill="rgba(0,0,0,0.95)" stroke="none" stroke-width="1" />
<rect x="534.00" y="337.10" width="1.00" height="25.00" fill="rgba(0,0,0,0.3)" stroke="none" stroke-width="1" />
<rect x="535.00" y="337.10" width="2.00" height="25.00" fill="rgba(0,0,0,0.95)" stroke="none" stroke-width="1" />
<rect x="537.00" y="337.10" width="3.00" height="25.00" fill="rgba(0,0,0,0.5)" stroke="none" stroke-width="1" />
<rect x="540.00" y="337.10" width="3.00" height="25.00" fill="rgba(0,0,0,0.95)" stroke="none" stroke-width="1" />
<rect x="543.00" y="337.10" width="2.00" height="25.00" fill="rgba(0,0,0,0.5)" stroke="none" stroke-width="1" />
<rect x="545.00" y="337.10" width="3.00" height="25.00" fill="rgba(0,0,0,0.95)" stroke="none" stroke-width="1" />
<rect x="550.00" y="337.10" width="2.00" height="25.00" fill="rgba(0,0,0,0.95)" stroke="none" stroke-width="1" />
<rect x="560.00" y="337.10" width="1.00" height="25.00" fill="rgba(0,0,0,0.95)" stroke="none" stroke-width="1" />
<rect x="566.00" y="337.10" width="1.00" height="25.00" fill="rgba(0,0,0,0.5)" stroke="none" stroke-width="1" />
<rect x="567.00" y="337.10" width="3.00" height="25.00" fill="rgba(0,0,0,1)" stroke="none" stroke-width="1" />
<rect x="573.00" y="337.10" width="2.00" height="25.00" fill="rgba(0,0,0,0.45)" stroke="none" stroke-width="1" />
<rect x="576.00" y="337.10" width="2.00" height="25.00" fill="rgba(0,0,0,0.75)" stroke="none" stroke-width="1" />
<rect x="580.00" y="337.10" width="2.00" height="25.00" fill="rgba(0,0,0,0.45)" stroke="none" stroke-width="1" />
<rect x="584.00" y="337.10" width="2.00" height="25.00" fill="rgba(0,0,0,0.45)" stroke="none" stroke-width="1" />
<rect x="586.00" y="337.10" width="2.00" height="25.00" fill="rgba(0,0,0,1)" stroke="none" stroke-width="1" />
<rect x="588.00" y="337.10" width="2.00" height="25.00" fill="rgba(0,0,0,0.5)" stroke="none" stroke-width="1" />
<rect x="596.00" y="337.10" width="1.00" height="25.00" fill="rgba(0,0,0,1)" stroke="none" stroke-width="1" />
<rect x="602.00" y="337.10" width="1.00" height="25.00" fill="rgba(0,0,0,0.8)" stroke="none" stroke-width="1" />
<rect x="604.00" y="337.10" width="1.00" height="25.00" fill="rgba(0,0,0,0.5)" stroke="none" stroke-width="1" />
<rect x="609.00" y="337.10" width="1.00" height="25.00" fill="rgba(0,0,0,0.9)" stroke="none" stroke-width="1" />
<rect x="611.00" y="337.10" width="1.00" height="25.00" fill="rgba(0,0,0,0.8)" stroke="none" stroke-width="1" />
<rect x="633.00" y="337.10" width="1.00" height="25.00" fill="rgba(0,0,0,1)" stroke="none" stroke-width="1" />
<rect x="637.00" y="337.10" width="1.00" height="25.00" fill="rgba(0,0,0,0.85)" stroke="none" stroke-width="1" />
<rect x="639.00" y="337.10" width="1.00" height="25.00" fill="rgba(0,0,0,0.85)" stroke="none" stroke-width="1" />
<rect x="643.00" y="337.10" width="1.00" height="25.00" fill="rgba(0,0,0,1)" stroke="none" stroke-width="1" />
<rect x="645.00" y="337.10" width="2.00" height="25.00" fill="rgba(0,0,0,0.75)" stroke="none" stroke-width="1" />
<rect x="647.00" y="337.10" width="1.00" height="25.00" fill="rgba(0,0,0,0.5)" stroke="none" stroke-width="1" />
<rect x="649.00" y="337.10" width="1.00" height="25.00" fill="rgba(0,0,0,0.5)" stroke="none" stroke-width="1" />
<rect x="654.00" y="337.10" width="1.00" height="25.00" fill="rgba(0,0,0,0.75)" stroke="none" stroke-width="1" />
<rect x="657.00" y="337.10" width="1.00" height="25.00" fill="rgba(0,0,0,1)" stroke="none" stroke-width="1" />
<rect x="661.00" y="337.10" width="1.00" height="25.00" fill="rgba(0,0,0,0.5)" stroke="none" stroke-width="1" />
<rect x="663.00" y="337.10" width="3.00" height="25.00" fill="rgba(0,0,0,0.9)" stroke="none" stroke-width="1" />
<rect x="673.00" y="337.10" width="1.00" height="25.00" fill="rgba(0,0,0,0.75)" stroke="none" stroke-width="1" />
<rect x="675.00" y="337.10" width="1.00" height="25.00" fill="rgba(0,0,0,0.5)" stroke="none" stroke-width="1" />
<rect x="677.00" y="337.10" width="1.00" height="25.00" fill="rgba(0,0,0,0.5)" stroke="none" stroke-width="1" />
<rect x="679.00" y="337.10" width="1.00" height="25.00" fill="rgba(0,0,0,0.85)" stroke="none" stroke-width="1" />
<rect x="681.00" y="337.10" width="1.00" height="25.00" fill="rgba(0,0,0,0.5)" stroke="none" stroke-width="1" />
<rect x="507.90" y="356.00" width="2.70" height="6.10" fill="#b0262b" stroke="none" stroke-width="1" fill-opacity="0.93"/>
<rect x="510.60" y="356.00" width="35.50" height="6.10" fill="#d93c36" stroke="none" stroke-width="1" fill-opacity="0.93"/>
<rect x="546.10" y="356.00" width="49.00" height="6.10" fill="#f07256" stroke="none" stroke-width="1" fill-opacity="0.93"/>
<rect x="595.10" y="356.00" width="28.80" height="6.10" fill="#f5ae95" stroke="none" stroke-width="1" fill-opacity="0.93"/>
<rect x="623.90" y="356.00" width="26.60" height="6.10" fill="#fde4d8" stroke="none" stroke-width="1" fill-opacity="0.93"/>
<rect x="650.50" y="356.00" width="8.60" height="6.10" fill="#eff2fb" stroke="none" stroke-width="1" fill-opacity="0.93"/>
<rect x="659.10" y="356.00" width="8.60" height="6.10" fill="#bed7ea" stroke="none" stroke-width="1" fill-opacity="0.93"/>
<rect x="667.70" y="356.00" width="6.70" height="6.10" fill="#74aed8" stroke="none" stroke-width="1" fill-opacity="0.93"/>
<rect x="674.40" y="356.00" width="9.30" height="6.10" fill="#3f89c5" stroke="none" stroke-width="1" fill-opacity="0.93"/>
<rect x="507.90" y="244.40" width="175.80" height="92.70" fill="none" stroke="#262626" stroke-width="1.25" />
<rect x="507.90" y="337.10" width="175.80" height="25.00" fill="none" stroke="#262626" stroke-width="1.25" />
<rect x="507.90" y="362.10" width="175.80" height="49.70" fill="none" stroke="#262626" stroke-width="1.25" />
<line x1="504.70" y1="330.40" x2="507.90" y2="330.40" stroke="#333" stroke-width="0.9" />
<text transform="translate(502.90,332.85) scale(0.94,1)" font-size="6.8" text-anchor="end" fill="#555" font-family='"Liberation Sans", sans-serif' >0.0</text>
<line x1="504.70" y1="300.20" x2="507.90" y2="300.20" stroke="#333" stroke-width="0.9" />
<text transform="translate(502.90,302.65) scale(0.94,1)" font-size="6.8" text-anchor="end" fill="#555" font-family='"Liberation Sans", sans-serif' >0.2</text>
<line x1="504.70" y1="270.00" x2="507.90" y2="270.00" stroke="#333" stroke-width="0.9" />
<text transform="translate(502.90,272.45) scale(0.94,1)" font-size="6.8" text-anchor="end" fill="#555" font-family='"Liberation Sans", sans-serif' >0.4</text>
<line x1="504.70" y1="363.14" x2="507.90" y2="363.14" stroke="#333" stroke-width="0.9" />
<text transform="translate(503.30,366.14) scale(0.89,1)" font-size="8.4" text-anchor="end" fill="#222" font-family='"Liberation Sans", sans-serif' >2</text>
<line x1="504.70" y1="375.07" x2="507.90" y2="375.07" stroke="#333" stroke-width="0.9" />
<text transform="translate(503.30,378.07) scale(0.89,1)" font-size="8.4" text-anchor="end" fill="#222" font-family='"Liberation Sans", sans-serif' >1</text>
<line x1="504.70" y1="387.00" x2="507.90" y2="387.00" stroke="#333" stroke-width="0.9" />
<text transform="translate(503.30,390.00) scale(0.89,1)" font-size="8.4" text-anchor="end" fill="#222" font-family='"Liberation Sans", sans-serif' >0</text>
<line x1="504.70" y1="398.93" x2="507.90" y2="398.93" stroke="#333" stroke-width="0.9" />
<text transform="translate(503.30,401.93) scale(0.89,1)" font-size="8.4" text-anchor="end" fill="#222" font-family='"Liberation Sans", sans-serif' >−1</text>
<line x1="504.70" y1="410.86" x2="507.90" y2="410.86" stroke="#333" stroke-width="0.9" />
<text transform="translate(503.30,413.86) scale(0.89,1)" font-size="8.4" text-anchor="end" fill="#222" font-family='"Liberation Sans", sans-serif' >−2</text>
<line x1="507.90" y1="411.80" x2="507.90" y2="414.20" stroke="#333" stroke-width="0.9" />
<text transform="translate(507.90,421.10) scale(0.89,1)" font-size="8.4" text-anchor="middle" fill="#222" font-family='"Liberation Sans", sans-serif' >0</text>
<line x1="549.00" y1="411.80" x2="549.00" y2="414.20" stroke="#333" stroke-width="0.9" />
<text transform="translate(549.00,421.10) scale(0.89,1)" font-size="8.4" text-anchor="middle" fill="#222" font-family='"Liberation Sans", sans-serif' >4000</text>
<line x1="590.10" y1="411.80" x2="590.10" y2="414.20" stroke="#333" stroke-width="0.9" />
<text transform="translate(590.10,421.10) scale(0.89,1)" font-size="8.4" text-anchor="middle" fill="#222" font-family='"Liberation Sans", sans-serif' >8000</text>
<line x1="631.20" y1="411.80" x2="631.20" y2="414.20" stroke="#333" stroke-width="0.9" />
<text transform="translate(631.20,421.10) scale(0.89,1)" font-size="8.4" text-anchor="middle" fill="#222" font-family='"Liberation Sans", sans-serif' >12000</text>
<line x1="672.30" y1="411.80" x2="672.30" y2="414.20" stroke="#333" stroke-width="0.9" />
<text transform="translate(672.30,421.10) scale(0.89,1)" font-size="8.4" text-anchor="middle" fill="#222" font-family='"Liberation Sans", sans-serif' >16000</text>
<text transform="translate(595.80,431.70) scale(0.89,1)" font-size="8.3" text-anchor="middle" fill="#1a1a1a" font-family='"Liberation Sans", sans-serif' >Rank in Ordered Dataset</text>
<text transform="translate(489.60,290.75) rotate(-90)" font-size="7.3" text-anchor="middle" fill="#1a1a1a" font-family='"Liberation Sans", sans-serif'>Enrichment Score</text>
<text transform="translate(490.00,386.95) rotate(-90)" font-size="7.2" text-anchor="middle" fill="#1a1a1a" font-family='"Liberation Sans", sans-serif'>Ranked list metric</text>
<text transform="translate(595.80,234.10) scale(0.96,1)" font-size="7.7" text-anchor="middle" fill="#1a1a1a" font-family='"Liberation Sans", sans-serif' >ALTEMEIER Response To Lps With Mechanical</text>
<text transform="translate(595.80,241.50) scale(0.96,1)" font-size="7.7" text-anchor="middle" fill="#1a1a1a" font-family='"Liberation Sans", sans-serif' >Ventilation</text>
<text x="680.90" y="252.80" font-size="6.3" text-anchor="end" fill="#222" font-family='"Liberation Sans", sans-serif'><tspan font-style="italic">NES</tspan> = 2.083</text>
<text x="680.90" y="260.40" font-size="6.3" text-anchor="end" fill="#222" font-family='"Liberation Sans", sans-serif'><tspan font-style="italic">P.adj</tspan> = 0.003</text>
<text x="680.90" y="268.00" font-size="6.3" text-anchor="end" fill="#222" font-family='"Liberation Sans", sans-serif'><tspan font-style="italic">FDR</tspan> = 0.002</text>
<text transform="translate(464.20,239.00) scale(1.0,1)" font-size="19" fill="#3a3a3a" font-family='"Liberation Serif", serif'>D</text>
<g>
<line x1="158.60" y1="521.28" x2="335.40" y2="521.28" stroke="#f0f0f0" stroke-width="1.1" />
<line x1="158.60" y1="494.04" x2="335.40" y2="494.04" stroke="#f0f0f0" stroke-width="1.1" />
<line x1="158.60" y1="466.80" x2="335.40" y2="466.80" stroke="#f0f0f0" stroke-width="1.1" />
<line x1="158.60" y1="534.90" x2="335.40" y2="534.90" stroke="#ebebeb" stroke-width="1.2" />
<line x1="158.60" y1="507.66" x2="335.40" y2="507.66" stroke="#ebebeb" stroke-width="1.2" />
<line x1="158.60" y1="480.42" x2="335.40" y2="480.42" stroke="#ebebeb" stroke-width="1.2" />
<line x1="158.60" y1="453.18" x2="335.40" y2="453.18" stroke="#ebebeb" stroke-width="1.2" />
<line x1="179.15" y1="450.50" x2="179.15" y2="547.30" stroke="#f0f0f0" stroke-width="1.1" />
<line x1="220.25" y1="450.50" x2="220.25" y2="547.30" stroke="#f0f0f0" stroke-width="1.1" />
<line x1="261.35" y1="450.50" x2="261.35" y2="547.30" stroke="#f0f0f0" stroke-width="1.1" />
<line x1="302.45" y1="450.50" x2="302.45" y2="547.30" stroke="#f0f0f0" stroke-width="1.1" />
<line x1="158.60" y1="450.50" x2="158.60" y2="547.30" stroke="#ebebeb" stroke-width="1.2" />
<line x1="199.70" y1="450.50" x2="199.70" y2="547.30" stroke="#ebebeb" stroke-width="1.2" />
<line x1="240.80" y1="450.50" x2="240.80" y2="547.30" stroke="#ebebeb" stroke-width="1.2" />
<line x1="281.90" y1="450.50" x2="281.90" y2="547.30" stroke="#ebebeb" stroke-width="1.2" />
<line x1="323.00" y1="450.50" x2="323.00" y2="547.30" stroke="#ebebeb" stroke-width="1.2" />
<line x1="158.60" y1="580.55" x2="335.40" y2="580.55" stroke="#f0f0f0" stroke-width="1.1" />
<line x1="158.60" y1="593.05" x2="335.40" y2="593.05" stroke="#f0f0f0" stroke-width="1.1" />
<line x1="158.60" y1="605.55" x2="335.40" y2="605.55" stroke="#f0f0f0" stroke-width="1.1" />
<line x1="158.60" y1="618.05" x2="335.40" y2="618.05" stroke="#f0f0f0" stroke-width="1.1" />
<line x1="158.60" y1="586.80" x2="335.40" y2="586.80" stroke="#ebebeb" stroke-width="1.2" />
<line x1="158.60" y1="599.30" x2="335.40" y2="599.30" stroke="#ebebeb" stroke-width="1.2" />
<line x1="158.60" y1="611.80" x2="335.40" y2="611.80" stroke="#ebebeb" stroke-width="1.2" />
<line x1="179.15" y1="573.50" x2="179.15" y2="624.90" stroke="#f0f0f0" stroke-width="1.1" />
<line x1="220.25" y1="573.50" x2="220.25" y2="624.90" stroke="#f0f0f0" stroke-width="1.1" />
<line x1="261.35" y1="573.50" x2="261.35" y2="624.90" stroke="#f0f0f0" stroke-width="1.1" />
<line x1="302.45" y1="573.50" x2="302.45" y2="624.90" stroke="#f0f0f0" stroke-width="1.1" />
<line x1="158.60" y1="573.50" x2="158.60" y2="624.90" stroke="#ebebeb" stroke-width="1.2" />
<line x1="199.70" y1="573.50" x2="199.70" y2="624.90" stroke="#ebebeb" stroke-width="1.2" />
<line x1="240.80" y1="573.50" x2="240.80" y2="624.90" stroke="#ebebeb" stroke-width="1.2" />
<line x1="281.90" y1="573.50" x2="281.90" y2="624.90" stroke="#ebebeb" stroke-width="1.2" />
<line x1="323.00" y1="573.50" x2="323.00" y2="624.90" stroke="#ebebeb" stroke-width="1.2" />
</g>
<line x1="158.60" y1="534.90" x2="335.40" y2="534.90" stroke="#999" stroke-width="1.5" stroke-dasharray="4.4,4.4"/>
<polyline points="158.60,534.90 159.40,534.90 160.60,536.40 161.40,534.10 161.90,520.20 162.50,498.50 163.70,499.30 164.50,500.10 165.30,494.70 166.80,495.50 167.60,487.70 168.40,476.10 169.10,473.00 170.20,469.20 171.10,470.00 172.20,463.00 173.30,461.50 174.20,459.90 175.30,458.10 176.40,456.80 177.30,455.30 178.90,456.80 180.70,455.30 183.50,457.60 186.10,456.80 188.50,458.40 193.10,461.50 194.60,461.10 197.70,463.30 200.00,463.80 203.10,462.20 207.00,465.30 210.90,467.60 214.70,469.20 219.40,470.70 222.50,472.30 226.00,473.50 240.70,483.70 258.70,497.60 267.70,503.80 283.20,516.40 299.60,528.30 300.90,527.00 306.10,531.10 307.30,529.50 309.40,529.00 317.60,535.20 324.90,540.90 325.70,536.50 333.10,542.60 333.90,533.60 335.40,534.90" fill="none" stroke="#3cb2e6" stroke-width="1.3" stroke-linejoin="round" stroke-linecap="round"/>
<polygon points="158.60,599.30 158.60,589.30 159.31,591.30 160.37,592.55 162.14,593.67 165.67,594.80 170.98,595.67 176.28,596.30 185.12,597.05 193.96,597.55 211.64,598.30 229.32,598.86 247.00,599.30 264.68,599.67 282.36,600.05 300.04,600.55 314.18,601.30 323.02,602.17 328.33,603.17 331.86,604.55 334.52,606.55 335.40,608.05 335.40,599.30" fill="#bfbfbf" stroke="none" stroke-width="0" stroke-linejoin="round" />
<rect x="161.00" y="547.30" width="2.00" height="26.20" fill="rgba(0,0,0,1)" stroke="none" stroke-width="1" />
<rect x="163.00" y="547.30" width="4.00" height="26.20" fill="rgba(0,0,0,0.35)" stroke="none" stroke-width="1" />
<rect x="167.00" y="547.30" width="2.00" height="26.20" fill="rgba(0,0,0,1)" stroke="none" stroke-width="1" />
<rect x="169.00" y="547.30" width="3.00" height="26.20" fill="rgba(0,0,0,0.7)" stroke="none" stroke-width="1" />
<rect x="172.00" y="547.30" width="1.00" height="26.20" fill="rgba(0,0,0,1)" stroke="none" stroke-width="1" />
<rect x="175.00" y="547.30" width="3.00" height="26.20" fill="rgba(0,0,0,0.5)" stroke="none" stroke-width="1" />
<rect x="178.00" y="547.30" width="2.00" height="26.20" fill="rgba(0,0,0,0.12)" stroke="none" stroke-width="1" />
<rect x="181.00" y="547.30" width="1.00" height="26.20" fill="rgba(0,0,0,0.9)" stroke="none" stroke-width="1" />
<rect x="186.00" y="547.30" width="1.00" height="26.20" fill="rgba(0,0,0,1)" stroke="none" stroke-width="1" />
<rect x="194.00" y="547.30" width="1.00" height="26.20" fill="rgba(0,0,0,0.9)" stroke="none" stroke-width="1" />
<rect x="199.00" y="547.30" width="1.00" height="26.20" fill="rgba(0,0,0,0.5)" stroke="none" stroke-width="1" />
<rect x="201.00" y="547.30" width="1.00" height="26.20" fill="rgba(0,0,0,1)" stroke="none" stroke-width="1" />
<rect x="203.00" y="547.30" width="1.00" height="26.20" fill="rgba(0,0,0,0.45)" stroke="none" stroke-width="1" />
<rect x="211.00" y="547.30" width="1.00" height="26.20" fill="rgba(0,0,0,0.85)" stroke="none" stroke-width="1" />
<rect x="214.00" y="547.30" width="1.00" height="26.20" fill="rgba(0,0,0,0.85)" stroke="none" stroke-width="1" />
<rect x="216.00" y="547.30" width="1.00" height="26.20" fill="rgba(0,0,0,0.85)" stroke="none" stroke-width="1" />
<rect x="220.00" y="547.30" width="1.00" height="26.20" fill="rgba(0,0,0,0.85)" stroke="none" stroke-width="1" />
<rect x="223.00" y="547.30" width="1.00" height="26.20" fill="rgba(0,0,0,0.85)" stroke="none" stroke-width="1" />
<rect x="225.00" y="547.30" width="1.00" height="26.20" fill="rgba(0,0,0,0.85)" stroke="none" stroke-width="1" />
<rect x="231.00" y="547.30" width="1.00" height="26.20" fill="rgba(0,0,0,0.85)" stroke="none" stroke-width="1" />
<rect x="236.00" y="547.30" width="1.00" height="26.20" fill="rgba(0,0,0,0.85)" stroke="none" stroke-width="1" />
<rect x="244.00" y="547.30" width="1.00" height="26.20" fill="rgba(0,0,0,0.7)" stroke="none" stroke-width="1" />
<rect x="259.00" y="547.30" width="1.00" height="26.20" fill="rgba(0,0,0,0.75)" stroke="none" stroke-width="1" />
<rect x="266.00" y="547.30" width="1.00" height="26.20" fill="rgba(0,0,0,0.75)" stroke="none" stroke-width="1" />
<rect x="300.00" y="547.30" width="1.00" height="26.20" fill="rgba(0,0,0,0.85)" stroke="none" stroke-width="1" />
<rect x="306.00" y="547.30" width="1.00" height="26.20" fill="rgba(0,0,0,0.75)" stroke="none" stroke-width="1" />
<rect x="308.00" y="547.30" width="1.00" height="26.20" fill="rgba(0,0,0,0.7)" stroke="none" stroke-width="1" />
<rect x="325.00" y="547.30" width="1.00" height="26.20" fill="rgba(0,0,0,0.7)" stroke="none" stroke-width="1" />
<rect x="334.00" y="547.30" width="1.00" height="26.20" fill="rgba(0,0,0,0.6)" stroke="none" stroke-width="1" />
<rect x="158.60" y="567.00" width="67.20" height="6.50" fill="#d93c36" stroke="none" stroke-width="1" fill-opacity="0.93"/>
<rect x="225.80" y="567.00" width="41.70" height="6.50" fill="#f07256" stroke="none" stroke-width="1" fill-opacity="0.93"/>
<rect x="267.50" y="567.00" width="9.40" height="6.50" fill="#f5ae95" stroke="none" stroke-width="1" fill-opacity="0.93"/>
<rect x="276.90" y="567.00" width="15.40" height="6.50" fill="#fde4d8" stroke="none" stroke-width="1" fill-opacity="0.93"/>
<rect x="292.30" y="567.00" width="24.20" height="6.50" fill="#eff2fb" stroke="none" stroke-width="1" fill-opacity="0.93"/>
<rect x="316.50" y="567.00" width="6.70" height="6.50" fill="#bed7ea" stroke="none" stroke-width="1" fill-opacity="0.93"/>
<rect x="323.20" y="567.00" width="8.80" height="6.50" fill="#3f89c5" stroke="none" stroke-width="1" fill-opacity="0.93"/>
<rect x="332.00" y="567.00" width="3.40" height="6.50" fill="#1f60a7" stroke="none" stroke-width="1" fill-opacity="0.93"/>
<rect x="158.60" y="450.50" width="176.80" height="96.80" fill="none" stroke="#262626" stroke-width="1.25" />
<rect x="158.60" y="547.30" width="176.80" height="26.20" fill="none" stroke="#262626" stroke-width="1.25" />
<rect x="158.60" y="573.50" width="176.80" height="51.40" fill="none" stroke="#262626" stroke-width="1.25" />
<line x1="155.40" y1="534.90" x2="158.60" y2="534.90" stroke="#333" stroke-width="0.9" />
<text transform="translate(153.60,537.35) scale(0.94,1)" font-size="6.8" text-anchor="end" fill="#333" font-family='"Liberation Sans", sans-serif' >0.0</text>
<line x1="155.40" y1="507.66" x2="158.60" y2="507.66" stroke="#333" stroke-width="0.9" />
<text transform="translate(153.60,510.11) scale(0.94,1)" font-size="6.8" text-anchor="end" fill="#333" font-family='"Liberation Sans", sans-serif' >0.2</text>
<line x1="155.40" y1="480.42" x2="158.60" y2="480.42" stroke="#333" stroke-width="0.9" />
<text transform="translate(153.60,482.87) scale(0.94,1)" font-size="6.8" text-anchor="end" fill="#333" font-family='"Liberation Sans", sans-serif' >0.4</text>
<line x1="155.40" y1="453.18" x2="158.60" y2="453.18" stroke="#333" stroke-width="0.9" />
<text transform="translate(153.60,455.63) scale(0.94,1)" font-size="6.8" text-anchor="end" fill="#333" font-family='"Liberation Sans", sans-serif' >0.6</text>
<line x1="155.40" y1="574.30" x2="158.60" y2="574.30" stroke="#333" stroke-width="0.9" />
<text transform="translate(154.00,577.30) scale(0.89,1)" font-size="8.4" text-anchor="end" fill="#222" font-family='"Liberation Sans", sans-serif' >2</text>
<line x1="155.40" y1="586.80" x2="158.60" y2="586.80" stroke="#333" stroke-width="0.9" />
<text transform="translate(154.00,589.80) scale(0.89,1)" font-size="8.4" text-anchor="end" fill="#222" font-family='"Liberation Sans", sans-serif' >1</text>
<line x1="155.40" y1="599.30" x2="158.60" y2="599.30" stroke="#333" stroke-width="0.9" />
<text transform="translate(154.00,602.30) scale(0.89,1)" font-size="8.4" text-anchor="end" fill="#222" font-family='"Liberation Sans", sans-serif' >0</text>
<line x1="155.40" y1="611.80" x2="158.60" y2="611.80" stroke="#333" stroke-width="0.9" />
<text transform="translate(154.00,614.80) scale(0.89,1)" font-size="8.4" text-anchor="end" fill="#222" font-family='"Liberation Sans", sans-serif' >−1</text>
<line x1="155.40" y1="624.30" x2="158.60" y2="624.30" stroke="#333" stroke-width="0.9" />
<text transform="translate(154.00,627.30) scale(0.89,1)" font-size="8.4" text-anchor="end" fill="#222" font-family='"Liberation Sans", sans-serif' >−2</text>
<line x1="158.60" y1="624.90" x2="158.60" y2="627.30" stroke="#333" stroke-width="0.9" />
<text transform="translate(158.60,634.80) scale(0.89,1)" font-size="8.4" text-anchor="middle" fill="#222" font-family='"Liberation Sans", sans-serif' >0</text>
<line x1="199.70" y1="624.90" x2="199.70" y2="627.30" stroke="#333" stroke-width="0.9" />
<text transform="translate(199.70,634.80) scale(0.89,1)" font-size="8.4" text-anchor="middle" fill="#222" font-family='"Liberation Sans", sans-serif' >4000</text>
<line x1="240.80" y1="624.90" x2="240.80" y2="627.30" stroke="#333" stroke-width="0.9" />
<text transform="translate(240.80,634.80) scale(0.89,1)" font-size="8.4" text-anchor="middle" fill="#222" font-family='"Liberation Sans", sans-serif' >8000</text>
<line x1="281.90" y1="624.90" x2="281.90" y2="627.30" stroke="#333" stroke-width="0.9" />
<text transform="translate(281.90,634.80) scale(0.89,1)" font-size="8.4" text-anchor="middle" fill="#222" font-family='"Liberation Sans", sans-serif' >12000</text>
<line x1="323.00" y1="624.90" x2="323.00" y2="627.30" stroke="#333" stroke-width="0.9" />
<text transform="translate(323.00,634.80) scale(0.89,1)" font-size="8.4" text-anchor="middle" fill="#222" font-family='"Liberation Sans", sans-serif' >16000</text>
<text transform="translate(247.00,646.30) scale(0.89,1)" font-size="8.3" text-anchor="middle" fill="#1a1a1a" font-family='"Liberation Sans", sans-serif' >Rank in Ordered Dataset</text>
<text transform="translate(141.10,498.90) rotate(-90)" font-size="7.3" text-anchor="middle" fill="#1a1a1a" font-family='"Liberation Sans", sans-serif'>Enrichment Score</text>
<text transform="translate(141.30,599.20) rotate(-90)" font-size="7.2" text-anchor="middle" fill="#1a1a1a" font-family='"Liberation Sans", sans-serif'>Ranked list metric</text>
<text transform="translate(247.00,447.30) scale(0.96,1)" font-size="7.7" text-anchor="middle" fill="#1a1a1a" font-family='"Liberation Sans", sans-serif' >DAUER STAT3 Targets Up</text>
<text x="331.10" y="459.60" font-size="6.3" text-anchor="end" fill="#222" font-family='"Liberation Sans", sans-serif'><tspan font-style="italic">NES</tspan> = 1.881</text>
<text x="331.10" y="467.20" font-size="6.3" text-anchor="end" fill="#222" font-family='"Liberation Sans", sans-serif'><tspan font-style="italic">P.adj</tspan> = 0.024</text>
<text x="331.10" y="474.80" font-size="6.3" text-anchor="end" fill="#222" font-family='"Liberation Sans", sans-serif'><tspan font-style="italic">FDR</tspan> = 0.022</text>
<text transform="translate(115.60,453.00) scale(1.0,1)" font-size="17" fill="#3a3a3a" font-family='"Liberation Serif", serif'>E</text>
<g>
<line x1="379.10" y1="530.32" x2="555.50" y2="530.32" stroke="#f0f0f0" stroke-width="1.1" />
<line x1="379.10" y1="512.76" x2="555.50" y2="512.76" stroke="#f0f0f0" stroke-width="1.1" />
<line x1="379.10" y1="495.20" x2="555.50" y2="495.20" stroke="#f0f0f0" stroke-width="1.1" />
<line x1="379.10" y1="477.64" x2="555.50" y2="477.64" stroke="#f0f0f0" stroke-width="1.1" />
<line x1="379.10" y1="460.08" x2="555.50" y2="460.08" stroke="#f0f0f0" stroke-width="1.1" />
<line x1="379.10" y1="539.10" x2="555.50" y2="539.10" stroke="#ebebeb" stroke-width="1.2" />
<line x1="379.10" y1="521.54" x2="555.50" y2="521.54" stroke="#ebebeb" stroke-width="1.2" />
<line x1="379.10" y1="503.98" x2="555.50" y2="503.98" stroke="#ebebeb" stroke-width="1.2" />
<line x1="379.10" y1="486.42" x2="555.50" y2="486.42" stroke="#ebebeb" stroke-width="1.2" />
<line x1="379.10" y1="468.86" x2="555.50" y2="468.86" stroke="#ebebeb" stroke-width="1.2" />
<line x1="379.10" y1="451.30" x2="555.50" y2="451.30" stroke="#ebebeb" stroke-width="1.2" />
<line x1="399.65" y1="449.10" x2="399.65" y2="546.10" stroke="#f0f0f0" stroke-width="1.1" />
<line x1="440.75" y1="449.10" x2="440.75" y2="546.10" stroke="#f0f0f0" stroke-width="1.1" />
<line x1="481.85" y1="449.10" x2="481.85" y2="546.10" stroke="#f0f0f0" stroke-width="1.1" />
<line x1="522.95" y1="449.10" x2="522.95" y2="546.10" stroke="#f0f0f0" stroke-width="1.1" />
<line x1="379.10" y1="449.10" x2="379.10" y2="546.10" stroke="#ebebeb" stroke-width="1.2" />
<line x1="420.20" y1="449.10" x2="420.20" y2="546.10" stroke="#ebebeb" stroke-width="1.2" />
<line x1="461.30" y1="449.10" x2="461.30" y2="546.10" stroke="#ebebeb" stroke-width="1.2" />
<line x1="502.40" y1="449.10" x2="502.40" y2="546.10" stroke="#ebebeb" stroke-width="1.2" />
<line x1="543.50" y1="449.10" x2="543.50" y2="546.10" stroke="#ebebeb" stroke-width="1.2" />
<line x1="379.10" y1="579.57" x2="555.50" y2="579.57" stroke="#f0f0f0" stroke-width="1.1" />
<line x1="379.10" y1="591.99" x2="555.50" y2="591.99" stroke="#f0f0f0" stroke-width="1.1" />
<line x1="379.10" y1="604.41" x2="555.50" y2="604.41" stroke="#f0f0f0" stroke-width="1.1" />
<line x1="379.10" y1="616.83" x2="555.50" y2="616.83" stroke="#f0f0f0" stroke-width="1.1" />
<line x1="379.10" y1="585.78" x2="555.50" y2="585.78" stroke="#ebebeb" stroke-width="1.2" />
<line x1="379.10" y1="598.20" x2="555.50" y2="598.20" stroke="#ebebeb" stroke-width="1.2" />
<line x1="379.10" y1="610.62" x2="555.50" y2="610.62" stroke="#ebebeb" stroke-width="1.2" />
<line x1="399.65" y1="572.40" x2="399.65" y2="624.00" stroke="#f0f0f0" stroke-width="1.1" />
<line x1="440.75" y1="572.40" x2="440.75" y2="624.00" stroke="#f0f0f0" stroke-width="1.1" />
<line x1="481.85" y1="572.40" x2="481.85" y2="624.00" stroke="#f0f0f0" stroke-width="1.1" />
<line x1="522.95" y1="572.40" x2="522.95" y2="624.00" stroke="#f0f0f0" stroke-width="1.1" />
<line x1="379.10" y1="572.40" x2="379.10" y2="624.00" stroke="#ebebeb" stroke-width="1.2" />
<line x1="420.20" y1="572.40" x2="420.20" y2="624.00" stroke="#ebebeb" stroke-width="1.2" />
<line x1="461.30" y1="572.40" x2="461.30" y2="624.00" stroke="#ebebeb" stroke-width="1.2" />
<line x1="502.40" y1="572.40" x2="502.40" y2="624.00" stroke="#ebebeb" stroke-width="1.2" />
<line x1="543.50" y1="572.40" x2="543.50" y2="624.00" stroke="#ebebeb" stroke-width="1.2" />
</g>
<line x1="379.10" y1="539.10" x2="555.50" y2="539.10" stroke="#aaa" stroke-width="1.1" stroke-dasharray="4.4,4.4"/>
<polyline points="379.10,530.00 379.20,526.40 379.80,520.20 380.90,507.80 381.90,497.00 382.90,495.50 384.00,493.90 385.00,486.20 386.30,480.00 387.50,473.00 388.60,471.50 390.10,463.80 391.70,463.30 393.20,462.20 394.80,460.70 396.30,460.20 397.90,458.10 400.20,459.90 401.70,458.70 404.00,460.70 406.40,457.60 408.70,457.10 410.20,456.00 412.20,453.40 414.90,455.60 418.00,458.70 420.30,458.40 423.40,460.70 429.50,464.90 435.70,468.40 440.40,473.00 447.00,477.70 461.80,491.80 475.20,504.40 491.20,519.50 493.70,520.40 498.70,522.90 501.20,524.60 503.80,524.10 508.80,527.90 511.30,527.90 518.00,533.00 522.20,533.50 523.90,532.10 526.40,534.60 528.90,533.50 532.30,535.80 536.50,539.70 539.00,537.10 541.50,536.30 544.00,537.10 546.60,534.60 549.10,537.10 553.30,541.30 554.10,538.00 555.50,539.10" fill="none" stroke="#3cb2e6" stroke-width="1.3" stroke-linejoin="round" stroke-linecap="round"/>
<polygon points="379.10,598.20 379.10,588.26 379.81,590.25 380.86,591.49 382.63,592.61 386.16,593.73 391.45,594.60 396.74,595.22 405.56,595.96 414.38,596.46 432.02,597.21 449.66,597.77 467.30,598.20 484.94,598.57 502.58,598.95 520.22,599.44 534.33,600.19 543.15,601.06 548.44,602.05 551.97,603.42 554.62,605.40 555.50,606.89 555.50,598.20" fill="#bfbfbf" stroke="none" stroke-width="0" stroke-linejoin="round" />
<rect x="379.00" y="546.10" width="1.00" height="26.30" fill="rgba(0,0,0,0.5)" stroke="none" stroke-width="1" />
<rect x="380.00" y="546.10" width="2.00" height="26.30" fill="rgba(0,0,0,1)" stroke="none" stroke-width="1" />
<rect x="383.00" y="546.10" width="1.00" height="26.30" fill="rgba(0,0,0,0.75)" stroke="none" stroke-width="1" />
<rect x="386.00" y="546.10" width="4.00" height="26.30" fill="rgba(0,0,0,0.75)" stroke="none" stroke-width="1" />
<rect x="390.00" y="546.10" width="1.00" height="26.30" fill="rgba(0,0,0,1)" stroke="none" stroke-width="1" />
<rect x="391.00" y="546.10" width="1.00" height="26.30" fill="rgba(0,0,0,0.2)" stroke="none" stroke-width="1" />
<rect x="393.00" y="546.10" width="1.00" height="26.30" fill="rgba(0,0,0,0.5)" stroke="none" stroke-width="1" />
<rect x="395.00" y="546.10" width="1.00" height="26.30" fill="rgba(0,0,0,0.75)" stroke="none" stroke-width="1" />
<rect x="397.00" y="546.10" width="1.00" height="26.30" fill="rgba(0,0,0,1)" stroke="none" stroke-width="1" />
<rect x="401.00" y="546.10" width="1.00" height="26.30" fill="rgba(0,0,0,1)" stroke="none" stroke-width="1" />
<rect x="402.00" y="546.10" width="2.00" height="26.30" fill="rgba(0,0,0,0.15)" stroke="none" stroke-width="1" />
<rect x="404.00" y="546.10" width="3.00" height="26.30" fill="rgba(0,0,0,1)" stroke="none" stroke-width="1" />
<rect x="407.00" y="546.10" width="1.00" height="26.30" fill="rgba(0,0,0,0.3)" stroke="none" stroke-width="1" />
<rect x="409.00" y="546.10" width="3.00" height="26.30" fill="rgba(0,0,0,1)" stroke="none" stroke-width="1" />
<rect x="418.00" y="546.10" width="1.00" height="26.30" fill="rgba(0,0,0,1)" stroke="none" stroke-width="1" />
<rect x="419.00" y="546.10" width="2.00" height="26.30" fill="rgba(0,0,0,0.3)" stroke="none" stroke-width="1" />
<rect x="421.00" y="546.10" width="1.00" height="26.30" fill="rgba(0,0,0,1)" stroke="none" stroke-width="1" />
<rect x="424.00" y="546.10" width="4.00" height="26.30" fill="rgba(0,0,0,0.5)" stroke="none" stroke-width="1" />
<rect x="428.00" y="546.10" width="1.00" height="26.30" fill="rgba(0,0,0,0.85)" stroke="none" stroke-width="1" />
<rect x="430.00" y="546.10" width="1.00" height="26.30" fill="rgba(0,0,0,0.5)" stroke="none" stroke-width="1" />
<rect x="433.00" y="546.10" width="1.00" height="26.30" fill="rgba(0,0,0,1)" stroke="none" stroke-width="1" />
<rect x="434.00" y="546.10" width="2.00" height="26.30" fill="rgba(0,0,0,0.5)" stroke="none" stroke-width="1" />
<rect x="442.00" y="546.10" width="1.00" height="26.30" fill="rgba(0,0,0,1)" stroke="none" stroke-width="1" />
<rect x="443.00" y="546.10" width="2.00" height="26.30" fill="rgba(0,0,0,0.6)" stroke="none" stroke-width="1" />
<rect x="449.00" y="546.10" width="1.00" height="26.30" fill="rgba(0,0,0,1)" stroke="none" stroke-width="1" />
<rect x="453.00" y="546.10" width="1.00" height="26.30" fill="rgba(0,0,0,0.75)" stroke="none" stroke-width="1" />
<rect x="457.00" y="546.10" width="2.00" height="26.30" fill="rgba(0,0,0,0.45)" stroke="none" stroke-width="1" />
<rect x="460.00" y="546.10" width="1.00" height="26.30" fill="rgba(0,0,0,0.75)" stroke="none" stroke-width="1" />
<rect x="464.00" y="546.10" width="4.00" height="26.30" fill="rgba(0,0,0,0.5)" stroke="none" stroke-width="1" />
<rect x="469.00" y="546.10" width="1.00" height="26.30" fill="rgba(0,0,0,1)" stroke="none" stroke-width="1" />
<rect x="472.00" y="546.10" width="2.00" height="26.30" fill="rgba(0,0,0,0.45)" stroke="none" stroke-width="1" />
<rect x="474.00" y="546.10" width="1.00" height="26.30" fill="rgba(0,0,0,0.85)" stroke="none" stroke-width="1" />
<rect x="475.00" y="546.10" width="2.00" height="26.30" fill="rgba(0,0,0,0.45)" stroke="none" stroke-width="1" />
<rect x="479.00" y="546.10" width="1.00" height="26.30" fill="rgba(0,0,0,1)" stroke="none" stroke-width="1" />
<rect x="491.00" y="546.10" width="5.00" height="26.30" fill="rgba(0,0,0,0.85)" stroke="none" stroke-width="1" />
<rect x="498.00" y="546.10" width="1.00" height="26.30" fill="rgba(0,0,0,1)" stroke="none" stroke-width="1" />
<rect x="501.00" y="546.10" width="4.00" height="26.30" fill="rgba(0,0,0,0.65)" stroke="none" stroke-width="1" />
<rect x="509.00" y="546.10" width="1.00" height="26.30" fill="rgba(0,0,0,1)" stroke="none" stroke-width="1" />
<rect x="512.00" y="546.10" width="1.00" height="26.30" fill="rgba(0,0,0,0.85)" stroke="none" stroke-width="1" />
<rect x="514.00" y="546.10" width="1.00" height="26.30" fill="rgba(0,0,0,0.5)" stroke="none" stroke-width="1" />
<rect x="517.00" y="546.10" width="2.00" height="26.30" fill="rgba(0,0,0,0.45)" stroke="none" stroke-width="1" />
<rect x="520.00" y="546.10" width="1.00" height="26.30" fill="rgba(0,0,0,1)" stroke="none" stroke-width="1" />
<rect x="522.00" y="546.10" width="1.00" height="26.30" fill="rgba(0,0,0,1)" stroke="none" stroke-width="1" />
<rect x="523.00" y="546.10" width="1.00" height="26.30" fill="rgba(0,0,0,0.5)" stroke="none" stroke-width="1" />
<rect x="528.00" y="546.10" width="1.00" height="26.30" fill="rgba(0,0,0,1)" stroke="none" stroke-width="1" />
<rect x="530.00" y="546.10" width="2.00" height="26.30" fill="rgba(0,0,0,0.45)" stroke="none" stroke-width="1" />
<rect x="537.00" y="546.10" width="1.00" height="26.30" fill="rgba(0,0,0,1)" stroke="none" stroke-width="1" />
<rect x="540.00" y="546.10" width="1.00" height="26.30" fill="rgba(0,0,0,0.75)" stroke="none" stroke-width="1" />
<rect x="542.00" y="546.10" width="4.00" height="26.30" fill="rgba(0,0,0,0.45)" stroke="none" stroke-width="1" />
<rect x="554.00" y="546.10" width="1.00" height="26.30" fill="rgba(0,0,0,0.5)" stroke="none" stroke-width="1" />
<rect x="379.10" y="565.90" width="31.70" height="6.50" fill="#d93c36" stroke="none" stroke-width="1" fill-opacity="0.93"/>
<rect x="410.80" y="565.90" width="21.30" height="6.50" fill="#f07256" stroke="none" stroke-width="1" fill-opacity="0.93"/>
<rect x="432.10" y="565.90" width="26.80" height="6.50" fill="#f5ae95" stroke="none" stroke-width="1" fill-opacity="0.93"/>
<rect x="458.90" y="565.90" width="32.60" height="6.50" fill="#fde4d8" stroke="none" stroke-width="1" fill-opacity="0.93"/>
<rect x="491.50" y="565.90" width="24.90" height="6.50" fill="#eff2fb" stroke="none" stroke-width="1" fill-opacity="0.93"/>
<rect x="516.40" y="565.90" width="16.80" height="6.50" fill="#bed7ea" stroke="none" stroke-width="1" fill-opacity="0.93"/>
<rect x="533.20" y="565.90" width="13.40" height="6.50" fill="#74aed8" stroke="none" stroke-width="1" fill-opacity="0.93"/>
<rect x="546.60" y="565.90" width="8.90" height="6.50" fill="#3f89c5" stroke="none" stroke-width="1" fill-opacity="0.93"/>
<rect x="379.10" y="449.10" width="176.40" height="97.00" fill="none" stroke="#262626" stroke-width="1.25" />
<rect x="379.10" y="546.10" width="176.40" height="26.30" fill="none" stroke="#262626" stroke-width="1.25" />
<rect x="379.10" y="572.40" width="176.40" height="51.60" fill="none" stroke="#262626" stroke-width="1.25" />
<line x1="375.90" y1="539.10" x2="379.10" y2="539.10" stroke="#333" stroke-width="0.9" />
<text transform="translate(374.10,541.55) scale(0.94,1)" font-size="6.8" text-anchor="end" fill="#333" font-family='"Liberation Sans", sans-serif' >0.0</text>
<line x1="375.90" y1="521.54" x2="379.10" y2="521.54" stroke="#333" stroke-width="0.9" />
<text transform="translate(374.10,523.99) scale(0.94,1)" font-size="6.8" text-anchor="end" fill="#333" font-family='"Liberation Sans", sans-serif' >0.1</text>
<line x1="375.90" y1="503.98" x2="379.10" y2="503.98" stroke="#333" stroke-width="0.9" />
<text transform="translate(374.10,506.43) scale(0.94,1)" font-size="6.8" text-anchor="end" fill="#333" font-family='"Liberation Sans", sans-serif' >0.2</text>
<line x1="375.90" y1="486.42" x2="379.10" y2="486.42" stroke="#333" stroke-width="0.9" />
<text transform="translate(374.10,488.87) scale(0.94,1)" font-size="6.8" text-anchor="end" fill="#333" font-family='"Liberation Sans", sans-serif' >0.3</text>
<line x1="375.90" y1="468.86" x2="379.10" y2="468.86" stroke="#333" stroke-width="0.9" />
<text transform="translate(374.10,471.31) scale(0.94,1)" font-size="6.8" text-anchor="end" fill="#333" font-family='"Liberation Sans", sans-serif' >0.4</text>
<line x1="375.90" y1="451.30" x2="379.10" y2="451.30" stroke="#333" stroke-width="0.9" />
<text transform="translate(374.10,453.75) scale(0.94,1)" font-size="6.8" text-anchor="end" fill="#333" font-family='"Liberation Sans", sans-serif' >0.5</text>
<line x1="375.90" y1="573.36" x2="379.10" y2="573.36" stroke="#333" stroke-width="0.9" />
<text transform="translate(374.50,576.36) scale(0.89,1)" font-size="8.4" text-anchor="end" fill="#222" font-family='"Liberation Sans", sans-serif' >2</text>
<line x1="375.90" y1="585.78" x2="379.10" y2="585.78" stroke="#333" stroke-width="0.9" />
<text transform="translate(374.50,588.78) scale(0.89,1)" font-size="8.4" text-anchor="end" fill="#222" font-family='"Liberation Sans", sans-serif' >1</text>
<line x1="375.90" y1="598.20" x2="379.10" y2="598.20" stroke="#333" stroke-width="0.9" />
<text transform="translate(374.50,601.20) scale(0.89,1)" font-size="8.4" text-anchor="end" fill="#222" font-family='"Liberation Sans", sans-serif' >0</text>
<line x1="375.90" y1="610.62" x2="379.10" y2="610.62" stroke="#333" stroke-width="0.9" />
<text transform="translate(374.50,613.62) scale(0.89,1)" font-size="8.4" text-anchor="end" fill="#222" font-family='"Liberation Sans", sans-serif' >−1</text>
<line x1="375.90" y1="623.04" x2="379.10" y2="623.04" stroke="#333" stroke-width="0.9" />
<text transform="translate(374.50,626.04) scale(0.89,1)" font-size="8.4" text-anchor="end" fill="#222" font-family='"Liberation Sans", sans-serif' >−2</text>
<line x1="379.10" y1="624.00" x2="379.10" y2="626.40" stroke="#333" stroke-width="0.9" />
<text transform="translate(379.10,634.50) scale(0.89,1)" font-size="8.4" text-anchor="middle" fill="#222" font-family='"Liberation Sans", sans-serif' >0</text>
<line x1="420.20" y1="624.00" x2="420.20" y2="626.40" stroke="#333" stroke-width="0.9" />
<text transform="translate(420.20,634.50) scale(0.89,1)" font-size="8.4" text-anchor="middle" fill="#222" font-family='"Liberation Sans", sans-serif' >4000</text>
<line x1="461.30" y1="624.00" x2="461.30" y2="626.40" stroke="#333" stroke-width="0.9" />
<text transform="translate(461.30,634.50) scale(0.89,1)" font-size="8.4" text-anchor="middle" fill="#222" font-family='"Liberation Sans", sans-serif' >8000</text>
<line x1="502.40" y1="624.00" x2="502.40" y2="626.40" stroke="#333" stroke-width="0.9" />
<text transform="translate(502.40,634.50) scale(0.89,1)" font-size="8.4" text-anchor="middle" fill="#222" font-family='"Liberation Sans", sans-serif' >12000</text>
<line x1="543.50" y1="624.00" x2="543.50" y2="626.40" stroke="#333" stroke-width="0.9" />
<text transform="translate(543.50,634.50) scale(0.89,1)" font-size="8.4" text-anchor="middle" fill="#222" font-family='"Liberation Sans", sans-serif' >16000</text>
<text transform="translate(467.30,644.70) scale(0.89,1)" font-size="8.3" text-anchor="middle" fill="#1a1a1a" font-family='"Liberation Sans", sans-serif' >Rank in Ordered Dataset</text>
<text transform="translate(361.00,497.60) rotate(-90)" font-size="7.3" text-anchor="middle" fill="#1a1a1a" font-family='"Liberation Sans", sans-serif'>Enrichment Score</text>
<text transform="translate(361.70,598.20) rotate(-90)" font-size="7.2" text-anchor="middle" fill="#1a1a1a" font-family='"Liberation Sans", sans-serif'>Ranked list metric</text>
<text transform="translate(467.30,445.90) scale(0.96,1)" font-size="7.7" text-anchor="middle" fill="#1a1a1a" font-family='"Liberation Sans", sans-serif' >WIERENGA STAT5A Targets Group1</text>
<text x="551.60" y="458.10" font-size="6.3" text-anchor="end" fill="#222" font-family='"Liberation Sans", sans-serif'><tspan font-style="italic">NES</tspan> = 1.872</text>
<text x="551.60" y="465.70" font-size="6.3" text-anchor="end" fill="#222" font-family='"Liberation Sans", sans-serif'><tspan font-style="italic">P.adj</tspan> = 0.003</text>
<text x="551.60" y="473.30" font-size="6.3" text-anchor="end" fill="#222" font-family='"Liberation Sans", sans-serif'><tspan font-style="italic">FDR</tspan> = 0.002</text>
<text transform="translate(343.00,451.90) scale(0.92,1)" font-size="17" fill="#3a3a3a" font-family='"Liberation Serif", serif'>F</text>
</svg>
</body></html>
